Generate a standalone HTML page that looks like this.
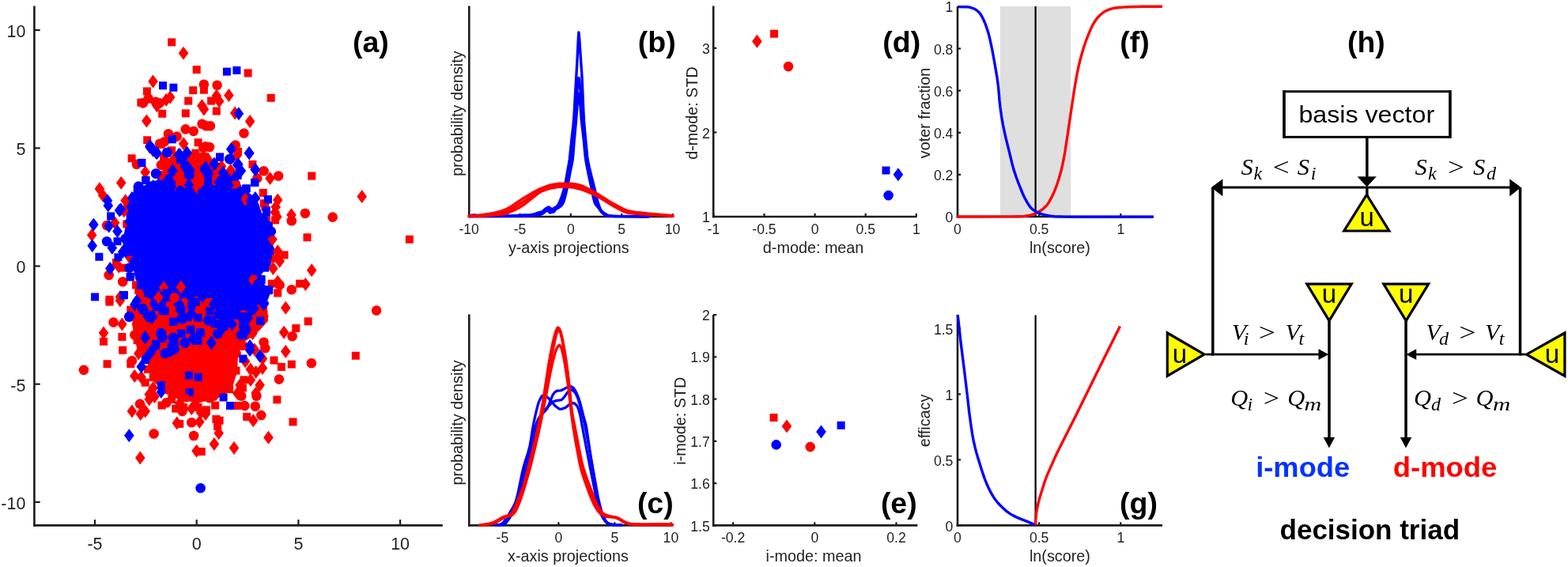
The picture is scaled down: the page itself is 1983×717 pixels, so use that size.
<!DOCTYPE html>
<html lang="en"><head><meta charset="utf-8"><title>decision triad figure</title>
<style>
html,body{margin:0;padding:0;background:#fff;}
body{width:1983px;height:717px;overflow:hidden;}
svg{display:block;font-family:"Liberation Sans","DejaVu Sans",sans-serif;}
</style></head><body>
<svg width="1983" height="717" viewBox="0 0 1983 717">
<rect width="1983" height="717" fill="#fff"/>
<g id="pa">
<path d="M218 200L240 196L262 196L272 212L284 230L280 245L245 250L218 240L212 218Z" fill="#ff0000" stroke="#ff0000" stroke-width="6" stroke-linejoin="round"/>
<path d="M176 370L334 370L336 405L322 420L304 432L298 450L297 470L290 492L270 503L250 506L228 503L210 495L198 478L190 460L176 440L170 410Z" fill="#ff0000" stroke="#ff0000" stroke-width="6" stroke-linejoin="round"/>
<path d="M162 262L163 280L159 300L158 320L172 340L174 352L181 362L188 372L196 380L215 378L240 372L262 372L280 378L300 380L322 384L336 378L339 370L325 352L328 343L339 335L344 325L344 315L339 302L346 293L336 281L328 270L324 258L318 250L304 240L296 222L284 220L276 236L256 242L248 252L236 252L222 248L213 230L192 232L180 240L171 248Z" fill="#0000ff" stroke="#0000ff" stroke-width="6" stroke-linejoin="round"/>
<rect x="212.2" y="48.4" width="10.0" height="10.0" fill="#ff0000"/>
<rect x="243.7" y="83.1" width="10.0" height="10.0" fill="#ff0000"/>
<rect x="308.6" y="87.4" width="10.0" height="10.0" fill="#ff0000"/>
<rect x="239.2" y="109.2" width="10.0" height="10.0" fill="#ff0000"/>
<rect x="252.9" y="108.7" width="10.0" height="10.0" fill="#ff0000"/>
<rect x="233.2" y="122.6" width="10.0" height="10.0" fill="#ff0000"/>
<rect x="229.8" y="138.3" width="10.0" height="10.0" fill="#ff0000"/>
<rect x="268.8" y="135.5" width="10.0" height="10.0" fill="#ff0000"/>
<rect x="180.9" y="110.4" width="10.0" height="10.0" fill="#ff0000"/>
<rect x="262.1" y="122.6" width="10.0" height="10.0" fill="#ff0000"/>
<rect x="200.2" y="138.8" width="10.0" height="10.0" fill="#ff0000"/>
<rect x="173.4" y="124.6" width="10.0" height="10.0" fill="#ff0000"/>
<path d="M232.0 58.7L238.3 67.2L232.0 75.7L225.7 67.2Z" fill="#ff0000"/>
<path d="M193.5 94.6L199.8 103.1L193.5 111.6L187.2 103.1Z" fill="#ff0000"/>
<path d="M289.4 111.9L295.7 120.4L289.4 128.9L283.1 120.4Z" fill="#ff0000"/>
<path d="M255.4 125.3L261.7 133.8L255.4 142.3L249.1 133.8Z" fill="#ff0000"/>
<path d="M257.9 129.4L264.2 137.9L257.9 146.4L251.6 137.9Z" fill="#ff0000"/>
<path d="M273.8 112.7L280.1 121.2L273.8 129.7L267.5 121.2Z" fill="#ff0000"/>
<path d="M277.2 119.4L283.5 127.9L277.2 136.4L270.9 127.9Z" fill="#ff0000"/>
<path d="M215.2 114.4L221.5 122.9L215.2 131.4L208.9 122.9Z" fill="#ff0000"/>
<path d="M210.2 117.7L216.5 126.2L210.2 134.7L203.9 126.2Z" fill="#ff0000"/>
<path d="M198.5 125.3L204.8 133.8L198.5 142.3L192.2 133.8Z" fill="#ff0000"/>
<path d="M297.2 134.5L303.5 143.0L297.2 151.5L290.9 143.0Z" fill="#ff0000"/>
<circle cx="257.9" cy="106.7" r="6.3" fill="#ff0000"/>
<circle cx="274.6" cy="107.8" r="6.3" fill="#ff0000"/>
<circle cx="180.9" cy="130.4" r="6.3" fill="#ff0000"/>
<circle cx="196.8" cy="128.7" r="6.3" fill="#ff0000"/>
<circle cx="187.6" cy="124.6" r="6.3" fill="#ff0000"/>
<circle cx="201.8" cy="130.4" r="6.3" fill="#ff0000"/>
<rect x="201.0" y="103.2" width="10.0" height="10.0" fill="#0000ff"/>
<rect x="214.4" y="105.7" width="10.0" height="10.0" fill="#0000ff"/>
<rect x="281.9" y="85.6" width="10.0" height="10.0" fill="#0000ff"/>
<rect x="294.4" y="83.9" width="10.0" height="10.0" fill="#0000ff"/>
<path d="M301.9 135.3L308.2 143.8L301.9 152.3L295.6 143.8Z" fill="#0000ff"/>
<path d="M185.4 144.6L191.7 153.1L185.4 161.6L179.1 153.1Z" fill="#ff0000"/>
<circle cx="213.0" cy="169.3" r="6.3" fill="#ff0000"/>
<circle cx="223.8" cy="172.6" r="6.3" fill="#ff0000"/>
<circle cx="234.7" cy="163.4" r="6.3" fill="#ff0000"/>
<circle cx="244.8" cy="165.9" r="6.3" fill="#ff0000"/>
<circle cx="255.6" cy="156.7" r="6.3" fill="#ff0000"/>
<rect x="181.2" y="172.2" width="10.0" height="10.0" fill="#ff0000"/>
<rect x="161.6" y="195.3" width="10.0" height="10.0" fill="#ff0000"/>
<circle cx="172.8" cy="207.8" r="6.3" fill="#ff0000"/>
<path d="M183.7 209.3L190.0 217.8L183.7 226.3L177.4 217.8Z" fill="#ff0000"/>
<path d="M153.2 222.7L159.5 231.2L153.2 239.7L146.9 231.2Z" fill="#ff0000"/>
<path d="M125.9 230.2L132.2 238.7L125.9 247.2L119.6 238.7Z" fill="#ff0000"/>
<path d="M130.1 238.6L136.4 247.1L130.1 255.6L123.8 247.1Z" fill="#ff0000"/>
<path d="M158.6 245.3L164.9 253.8L158.6 262.3L152.3 253.8Z" fill="#ff0000"/>
<circle cx="202.1" cy="181.8" r="6.3" fill="#ff0000"/>
<circle cx="207.9" cy="179.3" r="6.3" fill="#ff0000"/>
<rect x="198.8" y="177.7" width="10.0" height="10.0" fill="#ff0000"/>
<circle cx="203.8" cy="208.6" r="6.3" fill="#ff0000"/>
<circle cx="210.5" cy="205.3" r="6.3" fill="#ff0000"/>
<path d="M220.5 191.8L226.8 200.3L220.5 208.8L214.2 200.3Z" fill="#ff0000"/>
<rect x="245.6" y="175.2" width="10.0" height="10.0" fill="#ff0000"/>
<rect x="242.3" y="188.6" width="10.0" height="10.0" fill="#ff0000"/>
<circle cx="257.3" cy="186.9" r="6.3" fill="#ff0000"/>
<path d="M232.2 173.3L238.5 181.8L232.2 190.3L225.9 181.8Z" fill="#ff0000"/>
<rect x="245.6" y="205.3" width="10.0" height="10.0" fill="#ff0000"/>
<path d="M247.3 218.5L253.6 227.0L247.3 235.5L241.0 227.0Z" fill="#ff0000"/>
<circle cx="254.0" cy="240.4" r="6.3" fill="#ff0000"/>
<rect x="240.6" y="232.1" width="10.0" height="10.0" fill="#ff0000"/>
<circle cx="227.2" cy="238.7" r="6.3" fill="#ff0000"/>
<path d="M223.8 221.9L230.1 230.4L223.8 238.9L217.5 230.4Z" fill="#ff0000"/>
<circle cx="203.8" cy="222.0" r="6.3" fill="#ff0000"/>
<rect x="212.2" y="185.2" width="10.0" height="10.0" fill="#ff0000"/>
<path d="M210.5 205.1L216.8 213.6L210.5 222.1L204.2 213.6Z" fill="#ff0000"/>
<circle cx="215.5" cy="206.9" r="6.3" fill="#ff0000"/>
<rect x="202.1" y="193.6" width="10.0" height="10.0" fill="#ff0000"/>
<rect x="213.0" y="171.0" width="10.0" height="10.0" fill="#0000ff"/>
<path d="M189.5 177.5L195.8 186.0L189.5 194.5L183.2 186.0Z" fill="#0000ff"/>
<path d="M193.7 181.7L200.0 190.2L193.7 198.7L187.4 190.2Z" fill="#0000ff"/>
<path d="M198.7 185.1L205.0 193.6L198.7 202.1L192.4 193.6Z" fill="#0000ff"/>
<circle cx="211.3" cy="192.7" r="6.3" fill="#0000ff"/>
<path d="M227.2 186.7L233.5 195.2L227.2 203.7L220.9 195.2Z" fill="#0000ff"/>
<path d="M236.4 185.1L242.7 193.6L236.4 202.1L230.1 193.6Z" fill="#0000ff"/>
<rect x="225.5" y="196.9" width="10.0" height="10.0" fill="#0000ff"/>
<rect x="174.2" y="200.8" width="10.0" height="10.0" fill="#0000ff"/>
<circle cx="197.1" cy="219.5" r="6.3" fill="#0000ff"/>
<path d="M218.5 207.7L224.8 216.2L218.5 224.7L212.2 216.2Z" fill="#0000ff"/>
<rect x="179.5" y="222.9" width="10.0" height="10.0" fill="#0000ff"/>
<path d="M238.9 206.8L245.2 215.3L238.9 223.8L232.6 215.3Z" fill="#0000ff"/>
<rect x="228.9" y="203.6" width="10.0" height="10.0" fill="#0000ff"/>
<circle cx="238.9" cy="220.3" r="6.3" fill="#0000ff"/>
<rect x="170.3" y="232.9" width="10.0" height="10.0" fill="#0000ff"/>
<circle cx="180.3" cy="240.4" r="6.3" fill="#0000ff"/>
<rect x="182.0" y="235.4" width="10.0" height="10.0" fill="#0000ff"/>
<path d="M193.7 226.9L200.0 235.4L193.7 243.9L187.4 235.4Z" fill="#0000ff"/>
<path d="M200.4 225.2L206.7 233.7L200.4 242.2L194.1 233.7Z" fill="#0000ff"/>
<rect x="202.1" y="228.7" width="10.0" height="10.0" fill="#0000ff"/>
<path d="M213.8 218.5L220.1 227.0L213.8 235.5L207.5 227.0Z" fill="#0000ff"/>
<rect x="212.2" y="228.7" width="10.0" height="10.0" fill="#0000ff"/>
<path d="M166.9 242.0L173.2 250.5L166.9 259.0L160.6 250.5Z" fill="#0000ff"/>
<path d="M136.0 245.3L142.3 253.8L136.0 262.3L129.7 253.8Z" fill="#0000ff"/>
<rect x="170.3" y="250.5" width="10.0" height="10.0" fill="#0000ff"/>
<circle cx="193.7" cy="248.8" r="6.3" fill="#0000ff"/>
<rect x="195.4" y="242.1" width="10.0" height="10.0" fill="#0000ff"/>
<rect x="208.8" y="238.8" width="10.0" height="10.0" fill="#0000ff"/>
<path d="M217.2 242.0L223.5 250.5L217.2 259.0L210.9 250.5Z" fill="#0000ff"/>
<rect x="218.8" y="248.8" width="10.0" height="10.0" fill="#0000ff"/>
<path d="M238.9 225.2L245.2 233.7L238.9 242.2L232.6 233.7Z" fill="#0000ff"/>
<circle cx="233.9" cy="247.1" r="6.3" fill="#0000ff"/>
<rect x="245.6" y="248.8" width="10.0" height="10.0" fill="#0000ff"/>
<circle cx="259.0" cy="213.6" r="6.3" fill="#0000ff"/>
<rect x="252.3" y="250.5" width="10.0" height="10.0" fill="#0000ff"/>
<path d="M243.9 238.6L250.2 247.1L243.9 255.6L237.6 247.1Z" fill="#0000ff"/>
<path d="M316.1 144.9L322.4 153.4L316.1 161.9L309.8 153.4Z" fill="#ff0000"/>
<circle cx="265.9" cy="159.2" r="6.3" fill="#ff0000"/>
<circle cx="260.8" cy="159.2" r="6.3" fill="#ff0000"/>
<circle cx="308.5" cy="168.5" r="6.3" fill="#ff0000"/>
<circle cx="265.0" cy="186.0" r="6.3" fill="#ff0000"/>
<circle cx="260.0" cy="185.2" r="6.3" fill="#ff0000"/>
<circle cx="297.7" cy="183.5" r="6.3" fill="#ff0000"/>
<rect x="296.0" y="186.9" width="10.0" height="10.0" fill="#ff0000"/>
<path d="M299.3 188.4L305.6 196.9L299.3 205.4L293.0 196.9Z" fill="#ff0000"/>
<rect x="314.4" y="202.8" width="10.0" height="10.0" fill="#ff0000"/>
<circle cx="333.6" cy="216.2" r="6.3" fill="#ff0000"/>
<circle cx="325.3" cy="225.4" r="6.3" fill="#ff0000"/>
<path d="M341.5 216.9L347.8 225.4L341.5 233.9L335.2 225.4Z" fill="#ff0000"/>
<circle cx="352.1" cy="222.5" r="6.3" fill="#ff0000"/>
<rect x="389.2" y="217.5" width="10.0" height="10.0" fill="#ff0000"/>
<rect x="327.8" y="238.8" width="10.0" height="10.0" fill="#ff0000"/>
<path d="M351.2 244.5L357.5 253.0L351.2 261.5L344.9 253.0Z" fill="#ff0000"/>
<rect x="328.6" y="252.2" width="10.0" height="10.0" fill="#ff0000"/>
<path d="M261.7 193.4L268.0 201.9L261.7 210.4L255.4 201.9Z" fill="#ff0000"/>
<path d="M280.1 201.8L286.4 210.3L280.1 218.8L273.8 210.3Z" fill="#ff0000"/>
<path d="M291.8 206.8L298.1 215.3L291.8 223.8L285.5 215.3Z" fill="#ff0000"/>
<rect x="265.0" y="215.3" width="10.0" height="10.0" fill="#ff0000"/>
<path d="M266.7 225.2L273.0 233.7L266.7 242.2L260.4 233.7Z" fill="#ff0000"/>
<circle cx="276.7" cy="223.7" r="6.3" fill="#ff0000"/>
<rect x="293.5" y="228.7" width="10.0" height="10.0" fill="#ff0000"/>
<path d="M310.2 243.6L316.5 252.1L310.2 260.6L303.9 252.1Z" fill="#ff0000"/>
<path d="M292.6 180.0L298.9 188.5L292.6 197.0L286.3 188.5Z" fill="#0000ff"/>
<path d="M314.9 185.1L321.2 193.6L314.9 202.1L308.6 193.6Z" fill="#0000ff"/>
<rect x="273.1" y="193.6" width="10.0" height="10.0" fill="#0000ff"/>
<circle cx="290.1" cy="201.1" r="6.3" fill="#0000ff"/>
<path d="M270.9 198.4L277.2 206.9L270.9 215.4L264.6 206.9Z" fill="#0000ff"/>
<path d="M300.2 200.1L306.5 208.6L300.2 217.1L293.9 208.6Z" fill="#0000ff"/>
<path d="M303.5 206.8L309.8 215.3L303.5 223.8L297.2 215.3Z" fill="#0000ff"/>
<rect x="295.2" y="217.0" width="10.0" height="10.0" fill="#0000ff"/>
<path d="M322.8 206.0L329.1 214.5L322.8 223.0L316.5 214.5Z" fill="#0000ff"/>
<rect x="317.3" y="225.9" width="10.0" height="10.0" fill="#0000ff"/>
<rect x="306.0" y="233.7" width="10.0" height="10.0" fill="#0000ff"/>
<rect x="333.7" y="247.1" width="10.0" height="10.0" fill="#0000ff"/>
<path d="M322.8 242.0L329.1 250.5L322.8 259.0L316.5 250.5Z" fill="#0000ff"/>
<path d="M316.9 245.3L323.2 253.8L316.9 262.3L310.6 253.8Z" fill="#0000ff"/>
<circle cx="263.3" cy="218.7" r="6.3" fill="#0000ff"/>
<path d="M281.8 210.2L288.1 218.7L281.8 227.2L275.5 218.7Z" fill="#0000ff"/>
<rect x="280.1" y="222.0" width="10.0" height="10.0" fill="#0000ff"/>
<path d="M276.7 221.9L283.0 230.4L276.7 238.9L270.4 230.4Z" fill="#0000ff"/>
<circle cx="270.0" cy="240.4" r="6.3" fill="#0000ff"/>
<rect x="260.0" y="243.8" width="10.0" height="10.0" fill="#0000ff"/>
<path d="M286.8 228.6L293.1 237.1L286.8 245.6L280.5 237.1Z" fill="#0000ff"/>
<rect x="288.5" y="238.8" width="10.0" height="10.0" fill="#0000ff"/>
<circle cx="281.8" cy="247.1" r="6.3" fill="#0000ff"/>
<path d="M301.8 235.3L308.1 243.8L301.8 252.3L295.5 243.8Z" fill="#0000ff"/>
<rect x="271.7" y="250.5" width="10.0" height="10.0" fill="#0000ff"/>
<path d="M290.1 245.3L296.4 253.8L290.1 262.3L283.8 253.8Z" fill="#0000ff"/>
<circle cx="300.2" cy="255.5" r="6.3" fill="#0000ff"/>
<rect x="258.3" y="225.4" width="10.0" height="10.0" fill="#0000ff"/>
<path d="M260.0 248.7L266.3 257.2L260.0 265.7L253.7 257.2Z" fill="#0000ff"/>
<path d="M116.2 288.7L122.5 297.2L116.2 305.7L109.9 297.2Z" fill="#ff0000"/>
<circle cx="135.1" cy="285.1" r="6.3" fill="#ff0000"/>
<path d="M145.2 273.3L151.5 281.8L145.2 290.3L138.9 281.8Z" fill="#ff0000"/>
<rect x="155.3" y="278.4" width="10.0" height="10.0" fill="#ff0000"/>
<path d="M156.9 258.2L163.2 266.7L156.9 275.2L150.6 266.7Z" fill="#ff0000"/>
<rect x="141.9" y="327.0" width="10.0" height="10.0" fill="#ff0000"/>
<path d="M150.2 328.5L156.5 337.0L150.2 345.5L143.9 337.0Z" fill="#ff0000"/>
<rect x="150.2" y="333.7" width="10.0" height="10.0" fill="#ff0000"/>
<circle cx="137.7" cy="347.9" r="6.3" fill="#ff0000"/>
<circle cx="155.2" cy="356.2" r="6.3" fill="#ff0000"/>
<rect x="170.3" y="362.1" width="10.0" height="10.0" fill="#ff0000"/>
<rect x="167.0" y="355.4" width="10.0" height="10.0" fill="#ff0000"/>
<circle cx="178.7" cy="368.8" r="6.3" fill="#ff0000"/>
<path d="M151.9 367.0L158.2 375.5L151.9 384.0L145.6 375.5Z" fill="#ff0000"/>
<rect x="133.5" y="373.8" width="10.0" height="10.0" fill="#ff0000"/>
<path d="M165.3 318.4L171.6 326.9L165.3 335.4L159.0 326.9Z" fill="#ff0000"/>
<path d="M118.4 275.4L124.7 283.9L118.4 292.4L112.1 283.9Z" fill="#0000ff"/>
<path d="M116.7 302.2L123.0 310.7L116.7 319.2L110.4 310.7Z" fill="#0000ff"/>
<path d="M137.7 277.4L144.0 285.9L137.7 294.4L131.4 285.9Z" fill="#0000ff"/>
<rect x="135.2" y="268.4" width="10.0" height="10.0" fill="#0000ff"/>
<path d="M151.0 257.4L157.3 265.9L151.0 274.4L144.7 265.9Z" fill="#0000ff"/>
<path d="M136.8 251.5L143.1 260.0L136.8 268.5L130.5 260.0Z" fill="#0000ff"/>
<path d="M148.5 284.1L154.8 292.6L148.5 301.1L142.2 292.6Z" fill="#0000ff"/>
<circle cx="135.1" cy="305.2" r="6.3" fill="#0000ff"/>
<path d="M141.8 305.1L148.1 313.6L141.8 322.1L135.5 313.6Z" fill="#0000ff"/>
<rect x="143.5" y="300.2" width="10.0" height="10.0" fill="#0000ff"/>
<rect x="120.4" y="319.8" width="10.0" height="10.0" fill="#0000ff"/>
<rect x="144.4" y="320.3" width="10.0" height="10.0" fill="#0000ff"/>
<path d="M139.3 331.0L145.6 339.5L139.3 348.0L133.0 339.5Z" fill="#0000ff"/>
<rect x="115.1" y="370.5" width="10.0" height="10.0" fill="#0000ff"/>
<rect x="151.9" y="368.0" width="10.0" height="10.0" fill="#0000ff"/>
<rect x="159.9" y="345.4" width="10.0" height="10.0" fill="#0000ff"/>
<circle cx="163.6" cy="338.7" r="6.3" fill="#0000ff"/>
<rect x="161.9" y="265.0" width="10.0" height="10.0" fill="#0000ff"/>
<path d="M163.6 271.6L169.9 280.1L163.6 288.6L157.3 280.1Z" fill="#0000ff"/>
<circle cx="165.3" cy="290.1" r="6.3" fill="#0000ff"/>
<rect x="158.6" y="295.2" width="10.0" height="10.0" fill="#0000ff"/>
<path d="M161.9 301.7L168.2 310.2L161.9 318.7L155.6 310.2Z" fill="#0000ff"/>
<rect x="161.9" y="313.6" width="10.0" height="10.0" fill="#0000ff"/>
<circle cx="170.3" cy="330.3" r="6.3" fill="#0000ff"/>
<path d="M173.6 331.8L179.9 340.3L173.6 348.8L167.3 340.3Z" fill="#0000ff"/>
<rect x="173.7" y="345.4" width="10.0" height="10.0" fill="#0000ff"/>
<path d="M183.7 351.9L190.0 360.4L183.7 368.9L177.4 360.4Z" fill="#0000ff"/>
<rect x="182.0" y="365.5" width="10.0" height="10.0" fill="#0000ff"/>
<path d="M155.2 310.1L161.5 318.6L155.2 327.1L148.9 318.6Z" fill="#0000ff"/>
<circle cx="158.6" cy="301.8" r="6.3" fill="#0000ff"/>
<rect x="330.3" y="256.7" width="10.0" height="10.0" fill="#ff0000"/>
<path d="M348.7 253.2L355.0 261.7L348.7 270.2L342.4 261.7Z" fill="#ff0000"/>
<path d="M347.9 259.9L354.2 268.4L347.9 276.9L341.6 268.4Z" fill="#ff0000"/>
<rect x="342.9" y="273.4" width="10.0" height="10.0" fill="#ff0000"/>
<path d="M350.4 265.7L356.7 274.2L350.4 282.7L344.1 274.2Z" fill="#ff0000"/>
<path d="M368.5 263.2L374.8 271.7L368.5 280.2L362.2 271.7Z" fill="#ff0000"/>
<circle cx="368.8" cy="279.2" r="6.3" fill="#ff0000"/>
<circle cx="385.9" cy="269.7" r="6.3" fill="#ff0000"/>
<circle cx="420.7" cy="274.6" r="6.3" fill="#ff0000"/>
<rect x="383.5" y="295.2" width="10.0" height="10.0" fill="#ff0000"/>
<path d="M344.5 294.2L350.8 302.7L344.5 311.2L338.2 302.7Z" fill="#ff0000"/>
<path d="M351.2 309.2L357.5 317.7L351.2 326.2L344.9 317.7Z" fill="#ff0000"/>
<rect x="354.6" y="317.4" width="10.0" height="10.0" fill="#ff0000"/>
<path d="M353.7 321.8L360.0 330.3L353.7 338.8L347.4 330.3Z" fill="#ff0000"/>
<rect x="342.0" y="321.9" width="10.0" height="10.0" fill="#ff0000"/>
<path d="M345.4 331.0L351.7 339.5L345.4 348.0L339.1 339.5Z" fill="#ff0000"/>
<path d="M394.2 333.2L400.5 341.7L394.2 350.2L387.9 341.7Z" fill="#ff0000"/>
<path d="M351.2 347.7L357.5 356.2L351.2 364.7L344.9 356.2Z" fill="#ff0000"/>
<circle cx="353.7" cy="360.4" r="6.3" fill="#ff0000"/>
<rect x="338.7" y="353.7" width="10.0" height="10.0" fill="#ff0000"/>
<rect x="374.2" y="353.7" width="10.0" height="10.0" fill="#ff0000"/>
<path d="M386.4 351.1L392.7 359.6L386.4 368.1L380.1 359.6Z" fill="#ff0000"/>
<circle cx="368.8" cy="366.3" r="6.3" fill="#ff0000"/>
<rect x="346.2" y="365.5" width="10.0" height="10.0" fill="#ff0000"/>
<circle cx="321.1" cy="353.7" r="6.3" fill="#ff0000"/>
<rect x="332.0" y="273.4" width="10.0" height="10.0" fill="#ff0000"/>
<rect x="332.0" y="263.7" width="10.0" height="10.0" fill="#0000ff"/>
<circle cx="342.8" cy="292.6" r="6.3" fill="#0000ff"/>
<circle cx="338.7" cy="285.1" r="6.3" fill="#0000ff"/>
<circle cx="339.5" cy="314.4" r="6.3" fill="#0000ff"/>
<rect x="333.7" y="318.6" width="10.0" height="10.0" fill="#0000ff"/>
<rect x="330.3" y="333.7" width="10.0" height="10.0" fill="#0000ff"/>
<rect x="325.3" y="347.9" width="10.0" height="10.0" fill="#0000ff"/>
<circle cx="326.9" cy="358.7" r="6.3" fill="#0000ff"/>
<rect x="335.3" y="361.3" width="10.0" height="10.0" fill="#0000ff"/>
<path d="M333.6 268.2L339.9 276.7L333.6 285.2L327.3 276.7Z" fill="#0000ff"/>
<rect x="325.3" y="293.5" width="10.0" height="10.0" fill="#0000ff"/>
<path d="M335.3 298.4L341.6 306.9L335.3 315.4L329.0 306.9Z" fill="#0000ff"/>
<path d="M332.0 321.8L338.3 330.3L332.0 338.8L325.7 330.3Z" fill="#0000ff"/>
<rect x="328.6" y="368.8" width="10.0" height="10.0" fill="#0000ff"/>
<path d="M326.9 335.2L333.2 343.7L326.9 352.2L320.6 343.7Z" fill="#0000ff"/>
<path d="M457.7 240.0L464.0 248.5L457.7 257.0L451.4 248.5Z" fill="#ff0000"/>
<rect x="512.9" y="297.7" width="10.0" height="10.0" fill="#ff0000"/>
<rect x="337.7" y="118.8" width="10.0" height="10.0" fill="#ff0000"/>
<circle cx="105.9" cy="467.9" r="6.3" fill="#ff0000"/>
<rect x="130.6" y="455.3" width="10.0" height="10.0" fill="#ff0000"/>
<rect x="150.2" y="437.8" width="10.0" height="10.0" fill="#ff0000"/>
<rect x="149.4" y="421.0" width="10.0" height="10.0" fill="#ff0000"/>
<path d="M131.0 412.5L137.3 421.0L131.0 429.5L124.7 421.0Z" fill="#ff0000"/>
<rect x="126.0" y="426.9" width="10.0" height="10.0" fill="#ff0000"/>
<circle cx="143.5" cy="407.6" r="6.3" fill="#ff0000"/>
<path d="M154.4 401.6L160.7 410.1L154.4 418.6L148.1 410.1Z" fill="#ff0000"/>
<rect x="133.5" y="376.7" width="10.0" height="10.0" fill="#ff0000"/>
<path d="M151.9 371.5L158.2 380.0L151.9 388.5L145.6 380.0Z" fill="#ff0000"/>
<circle cx="170.3" cy="423.5" r="6.3" fill="#ff0000"/>
<rect x="168.6" y="425.2" width="10.0" height="10.0" fill="#ff0000"/>
<circle cx="185.4" cy="440.3" r="6.3" fill="#ff0000"/>
<circle cx="166.9" cy="456.2" r="6.3" fill="#ff0000"/>
<rect x="160.3" y="455.3" width="10.0" height="10.0" fill="#ff0000"/>
<path d="M170.3 466.9L176.6 475.4L170.3 483.9L164.0 475.4Z" fill="#ff0000"/>
<path d="M178.7 468.6L185.0 477.1L178.7 485.6L172.4 477.1Z" fill="#ff0000"/>
<rect x="178.7" y="478.8" width="10.0" height="10.0" fill="#ff0000"/>
<path d="M188.7 490.3L195.0 498.8L188.7 507.3L182.4 498.8Z" fill="#ff0000"/>
<rect x="160.3" y="386.7" width="10.0" height="10.0" fill="#ff0000"/>
<rect x="170.3" y="400.1" width="10.0" height="10.0" fill="#ff0000"/>
<rect x="173.7" y="411.8" width="10.0" height="10.0" fill="#ff0000"/>
<path d="M175.3 438.4L181.6 446.9L175.3 455.4L169.0 446.9Z" fill="#ff0000"/>
<rect x="182.0" y="462.0" width="10.0" height="10.0" fill="#ff0000"/>
<rect x="188.7" y="472.1" width="10.0" height="10.0" fill="#ff0000"/>
<circle cx="200.4" cy="480.4" r="6.3" fill="#ff0000"/>
<rect x="212.2" y="478.8" width="10.0" height="10.0" fill="#ff0000"/>
<path d="M193.7 482.0L200.0 490.5L193.7 499.0L187.4 490.5Z" fill="#ff0000"/>
<circle cx="163.6" cy="400.1" r="6.3" fill="#0000ff"/>
<path d="M170.3 376.5L176.6 385.0L170.3 393.5L164.0 385.0Z" fill="#0000ff"/>
<circle cx="180.3" cy="390.0" r="6.3" fill="#0000ff"/>
<circle cx="187.0" cy="398.4" r="6.3" fill="#0000ff"/>
<path d="M192.1 393.3L198.4 401.8L192.1 410.3L185.8 401.8Z" fill="#0000ff"/>
<rect x="193.7" y="383.4" width="10.0" height="10.0" fill="#0000ff"/>
<circle cx="203.8" cy="385.0" r="6.3" fill="#0000ff"/>
<rect x="203.8" y="388.4" width="10.0" height="10.0" fill="#0000ff"/>
<rect x="213.8" y="401.8" width="10.0" height="10.0" fill="#0000ff"/>
<circle cx="230.5" cy="403.4" r="6.3" fill="#0000ff"/>
<rect x="222.2" y="385.0" width="10.0" height="10.0" fill="#0000ff"/>
<path d="M225.5 376.5L231.8 385.0L225.5 393.5L219.2 385.0Z" fill="#0000ff"/>
<rect x="237.3" y="381.7" width="10.0" height="10.0" fill="#0000ff"/>
<path d="M242.3 388.2L248.6 396.7L242.3 405.2L236.0 396.7Z" fill="#0000ff"/>
<rect x="245.6" y="396.8" width="10.0" height="10.0" fill="#0000ff"/>
<path d="M183.7 418.4L190.0 426.9L183.7 435.4L177.4 426.9Z" fill="#0000ff"/>
<circle cx="203.8" cy="421.0" r="6.3" fill="#0000ff"/>
<circle cx="205.4" cy="426.9" r="6.3" fill="#0000ff"/>
<rect x="235.6" y="411.8" width="10.0" height="10.0" fill="#0000ff"/>
<rect x="248.1" y="415.2" width="10.0" height="10.0" fill="#0000ff"/>
<rect x="223.9" y="416.8" width="10.0" height="10.0" fill="#0000ff"/>
<circle cx="218.8" cy="426.9" r="6.3" fill="#0000ff"/>
<path d="M220.5 426.7L226.8 435.2L220.5 443.7L214.2 435.2Z" fill="#0000ff"/>
<circle cx="213.8" cy="445.3" r="6.3" fill="#0000ff"/>
<circle cx="220.5" cy="441.9" r="6.3" fill="#0000ff"/>
<circle cx="208.8" cy="446.9" r="6.3" fill="#0000ff"/>
<circle cx="233.9" cy="433.6" r="6.3" fill="#0000ff"/>
<path d="M243.9 420.0L250.2 428.5L243.9 437.0L237.6 428.5Z" fill="#0000ff"/>
<rect x="245.6" y="426.0" width="10.0" height="10.0" fill="#0000ff"/>
<rect x="192.1" y="431.9" width="10.0" height="10.0" fill="#0000ff"/>
<path d="M192.1 435.1L198.4 443.6L192.1 452.1L185.8 443.6Z" fill="#0000ff"/>
<path d="M187.0 441.8L193.3 450.3L187.0 458.8L180.7 450.3Z" fill="#0000ff"/>
<rect x="178.7" y="450.3" width="10.0" height="10.0" fill="#0000ff"/>
<path d="M178.7 455.2L185.0 463.7L178.7 472.2L172.4 463.7Z" fill="#0000ff"/>
<rect x="233.9" y="469.6" width="10.0" height="10.0" fill="#0000ff"/>
<rect x="245.6" y="472.1" width="10.0" height="10.0" fill="#0000ff"/>
<rect x="198.8" y="482.1" width="10.0" height="10.0" fill="#0000ff"/>
<path d="M203.8 487.0L210.1 495.5L203.8 504.0L197.5 495.5Z" fill="#0000ff"/>
<rect x="234.7" y="491.3" width="10.0" height="10.0" fill="#0000ff"/>
<path d="M361.3 380.7L367.6 389.2L361.3 397.7L355.0 389.2Z" fill="#ff0000"/>
<rect x="384.7" y="401.4" width="10.0" height="10.0" fill="#ff0000"/>
<rect x="369.3" y="410.1" width="10.0" height="10.0" fill="#ff0000"/>
<path d="M359.1 411.7L365.4 420.2L359.1 428.7L352.8 420.2Z" fill="#ff0000"/>
<circle cx="369.6" cy="425.2" r="6.3" fill="#ff0000"/>
<path d="M361.3 435.9L367.6 444.4L361.3 452.9L355.0 444.4Z" fill="#ff0000"/>
<circle cx="393.9" cy="459.2" r="6.3" fill="#ff0000"/>
<rect x="341.5" y="450.6" width="10.0" height="10.0" fill="#ff0000"/>
<rect x="350.9" y="459.0" width="10.0" height="10.0" fill="#ff0000"/>
<rect x="363.8" y="455.7" width="10.0" height="10.0" fill="#ff0000"/>
<circle cx="352.9" cy="479.6" r="6.3" fill="#ff0000"/>
<circle cx="333.6" cy="432.7" r="6.3" fill="#ff0000"/>
<circle cx="335.3" cy="440.3" r="6.3" fill="#ff0000"/>
<path d="M333.6 391.6L339.9 400.1L333.6 408.6L327.3 400.1Z" fill="#ff0000"/>
<circle cx="332.0" cy="395.1" r="6.3" fill="#ff0000"/>
<path d="M319.4 413.3L325.7 421.8L319.4 430.3L313.1 421.8Z" fill="#ff0000"/>
<path d="M321.9 433.4L328.2 441.9L321.9 450.4L315.6 441.9Z" fill="#ff0000"/>
<path d="M332.0 445.1L338.3 453.6L332.0 462.1L325.7 453.6Z" fill="#ff0000"/>
<path d="M316.9 458.5L323.2 467.0L316.9 475.5L310.6 467.0Z" fill="#ff0000"/>
<path d="M323.6 461.9L329.9 470.4L323.6 478.9L317.3 470.4Z" fill="#ff0000"/>
<path d="M332.0 456.9L338.3 465.4L332.0 473.9L325.7 465.4Z" fill="#ff0000"/>
<path d="M328.6 478.6L334.9 487.1L328.6 495.6L322.3 487.1Z" fill="#ff0000"/>
<path d="M323.6 488.7L329.9 497.2L323.6 505.7L317.3 497.2Z" fill="#ff0000"/>
<rect x="303.5" y="475.4" width="10.0" height="10.0" fill="#ff0000"/>
<path d="M316.9 471.9L323.2 480.4L316.9 488.9L310.6 480.4Z" fill="#ff0000"/>
<rect x="301.9" y="485.5" width="10.0" height="10.0" fill="#ff0000"/>
<path d="M303.5 478.6L309.8 487.1L303.5 495.6L297.2 487.1Z" fill="#ff0000"/>
<circle cx="290.1" cy="477.1" r="6.3" fill="#ff0000"/>
<rect x="285.1" y="487.1" width="10.0" height="10.0" fill="#ff0000"/>
<circle cx="285.1" cy="480.4" r="6.3" fill="#ff0000"/>
<circle cx="291.8" cy="460.3" r="6.3" fill="#ff0000"/>
<circle cx="298.5" cy="446.9" r="6.3" fill="#ff0000"/>
<circle cx="286.8" cy="455.3" r="6.3" fill="#ff0000"/>
<rect x="265.0" y="441.9" width="10.0" height="10.0" fill="#ff0000"/>
<rect x="261.7" y="458.7" width="10.0" height="10.0" fill="#ff0000"/>
<rect x="263.4" y="475.4" width="10.0" height="10.0" fill="#ff0000"/>
<rect x="265.0" y="488.8" width="10.0" height="10.0" fill="#ff0000"/>
<rect x="275.1" y="488.8" width="10.0" height="10.0" fill="#ff0000"/>
<circle cx="276.7" cy="450.3" r="6.3" fill="#ff0000"/>
<path d="M280.1 430.1L286.4 438.6L280.1 447.1L273.8 438.6Z" fill="#ff0000"/>
<rect x="258.3" y="433.6" width="10.0" height="10.0" fill="#ff0000"/>
<circle cx="306.9" cy="436.9" r="6.3" fill="#ff0000"/>
<path d="M310.2 448.5L316.5 457.0L310.2 465.5L303.9 457.0Z" fill="#ff0000"/>
<rect x="293.5" y="463.7" width="10.0" height="10.0" fill="#ff0000"/>
<path d="M300.2 488.7L306.5 497.2L300.2 505.7L293.9 497.2Z" fill="#ff0000"/>
<path d="M333.6 376.5L339.9 385.0L333.6 393.5L327.3 385.0Z" fill="#0000ff"/>
<path d="M321.1 381.5L327.4 390.0L321.1 398.5L314.8 390.0Z" fill="#0000ff"/>
<rect x="310.2" y="378.3" width="10.0" height="10.0" fill="#0000ff"/>
<rect x="324.1" y="400.9" width="10.0" height="10.0" fill="#0000ff"/>
<path d="M270.0 376.5L276.3 385.0L270.0 393.5L263.7 385.0Z" fill="#0000ff"/>
<rect x="271.7" y="391.7" width="10.0" height="10.0" fill="#0000ff"/>
<path d="M285.1 384.9L291.4 393.4L285.1 401.9L278.8 393.4Z" fill="#0000ff"/>
<rect x="288.5" y="391.7" width="10.0" height="10.0" fill="#0000ff"/>
<path d="M301.8 379.9L308.1 388.4L301.8 396.9L295.5 388.4Z" fill="#0000ff"/>
<rect x="301.9" y="395.1" width="10.0" height="10.0" fill="#0000ff"/>
<path d="M313.6 393.3L319.9 401.8L313.6 410.3L307.3 401.8Z" fill="#0000ff"/>
<circle cx="308.5" cy="413.5" r="6.3" fill="#0000ff"/>
<path d="M310.2 410.0L316.5 418.5L310.2 427.0L303.9 418.5Z" fill="#0000ff"/>
<circle cx="305.2" cy="423.5" r="6.3" fill="#0000ff"/>
<path d="M280.1 405.0L286.4 413.5L280.1 422.0L273.8 413.5Z" fill="#0000ff"/>
<rect x="270.1" y="416.8" width="10.0" height="10.0" fill="#0000ff"/>
<path d="M268.4 398.3L274.7 406.8L268.4 415.3L262.1 406.8Z" fill="#0000ff"/>
<circle cx="263.3" cy="405.1" r="6.3" fill="#0000ff"/>
<rect x="280.1" y="400.1" width="10.0" height="10.0" fill="#0000ff"/>
<rect x="260.0" y="388.4" width="10.0" height="10.0" fill="#0000ff"/>
<path d="M293.5 376.5L299.8 385.0L293.5 393.5L287.2 385.0Z" fill="#0000ff"/>
<rect x="278.4" y="378.3" width="10.0" height="10.0" fill="#0000ff"/>
<path d="M293.5 401.6L299.8 410.1L293.5 418.6L287.2 410.1Z" fill="#0000ff"/>
<path d="M267.5 425.1L273.8 433.6L267.5 442.1L261.2 433.6Z" fill="#0000ff"/>
<path d="M316.1 434.3L322.4 442.8L316.1 451.3L309.8 442.8Z" fill="#0000ff"/>
<path d="M328.6 441.8L334.9 450.3L328.6 458.8L322.3 450.3Z" fill="#0000ff"/>
<rect x="302.4" y="448.6" width="10.0" height="10.0" fill="#0000ff"/>
<circle cx="476.1" cy="392.6" r="6.3" fill="#ff0000"/>
<rect x="444.8" y="444.8" width="10.0" height="10.0" fill="#ff0000"/>
<path d="M166.9 511.6L173.2 520.1L166.9 528.6L160.6 520.1Z" fill="#ff0000"/>
<circle cx="177.0" cy="510.9" r="6.3" fill="#ff0000"/>
<path d="M188.7 496.5L195.0 505.0L188.7 513.5L182.4 505.0Z" fill="#ff0000"/>
<path d="M183.7 511.6L190.0 520.1L183.7 528.6L177.4 520.1Z" fill="#ff0000"/>
<path d="M177.8 514.9L184.1 523.4L177.8 531.9L171.5 523.4Z" fill="#ff0000"/>
<rect x="199.6" y="507.6" width="10.0" height="10.0" fill="#ff0000"/>
<circle cx="210.5" cy="509.2" r="6.3" fill="#ff0000"/>
<path d="M223.8 526.6L230.1 535.1L223.8 543.6L217.5 535.1Z" fill="#ff0000"/>
<rect x="222.2" y="531.0" width="10.0" height="10.0" fill="#ff0000"/>
<circle cx="242.3" cy="534.3" r="6.3" fill="#ff0000"/>
<path d="M252.3 525.0L258.6 533.5L252.3 542.0L246.0 533.5Z" fill="#ff0000"/>
<circle cx="194.6" cy="548.5" r="6.3" fill="#ff0000"/>
<circle cx="245.1" cy="551.0" r="6.3" fill="#ff0000"/>
<path d="M177.3 570.5L183.6 579.0L177.3 587.5L171.0 579.0Z" fill="#ff0000"/>
<path d="M248.6 561.8L254.9 570.3L248.6 578.8L242.3 570.3Z" fill="#ff0000"/>
<rect x="249.8" y="566.1" width="10.0" height="10.0" fill="#ff0000"/>
<rect x="217.2" y="511.7" width="10.0" height="10.0" fill="#ff0000"/>
<path d="M227.2 501.5L233.5 510.0L227.2 518.5L220.9 510.0Z" fill="#ff0000"/>
<rect x="227.2" y="510.1" width="10.0" height="10.0" fill="#ff0000"/>
<path d="M242.3 508.2L248.6 516.7L242.3 525.2L236.0 516.7Z" fill="#ff0000"/>
<rect x="242.3" y="505.0" width="10.0" height="10.0" fill="#ff0000"/>
<path d="M254.0 513.3L260.3 521.8L254.0 530.3L247.7 521.8Z" fill="#ff0000"/>
<circle cx="230.5" cy="520.1" r="6.3" fill="#ff0000"/>
<rect x="245.6" y="510.1" width="10.0" height="10.0" fill="#ff0000"/>
<path d="M195.4 493.2L201.7 501.7L195.4 510.2L189.1 501.7Z" fill="#ff0000"/>
<rect x="212.2" y="500.0" width="10.0" height="10.0" fill="#ff0000"/>
<rect x="228.9" y="498.3" width="10.0" height="10.0" fill="#ff0000"/>
<circle cx="250.6" cy="503.3" r="6.3" fill="#ff0000"/>
<path d="M163.3 542.2L169.6 550.7L163.3 559.2L157.0 550.7Z" fill="#0000ff"/>
<circle cx="253.6" cy="617.2" r="6.3" fill="#0000ff"/>
<rect x="345.4" y="500.4" width="10.0" height="10.0" fill="#ff0000"/>
<rect x="365.5" y="528.5" width="10.0" height="10.0" fill="#ff0000"/>
<path d="M339.5 544.7L345.8 553.2L339.5 561.7L333.2 553.2Z" fill="#ff0000"/>
<path d="M296.0 557.9L302.3 566.4L296.0 574.9L289.7 566.4Z" fill="#ff0000"/>
<path d="M270.9 552.9L277.2 561.4L270.9 569.9L264.6 561.4Z" fill="#ff0000"/>
<path d="M276.7 539.2L283.0 547.7L276.7 556.2L270.4 547.7Z" fill="#ff0000"/>
<rect x="270.1" y="534.3" width="10.0" height="10.0" fill="#ff0000"/>
<rect x="272.6" y="526.8" width="10.0" height="10.0" fill="#ff0000"/>
<rect x="268.4" y="525.1" width="10.0" height="10.0" fill="#ff0000"/>
<rect x="307.2" y="522.1" width="10.0" height="10.0" fill="#ff0000"/>
<path d="M320.3 523.3L326.6 531.8L320.3 540.3L314.0 531.8Z" fill="#ff0000"/>
<circle cx="330.3" cy="525.1" r="6.3" fill="#ff0000"/>
<circle cx="309.4" cy="513.1" r="6.3" fill="#ff0000"/>
<circle cx="322.8" cy="513.7" r="6.3" fill="#ff0000"/>
<rect x="295.2" y="508.1" width="10.0" height="10.0" fill="#ff0000"/>
<circle cx="305.2" cy="500.8" r="6.3" fill="#ff0000"/>
<circle cx="324.4" cy="500.8" r="6.3" fill="#ff0000"/>
<rect x="267.1" y="507.6" width="10.0" height="10.0" fill="#ff0000"/>
<rect x="255.8" y="513.4" width="10.0" height="10.0" fill="#ff0000"/>
<path d="M260.0 514.9L266.3 523.4L260.0 531.9L253.7 523.4Z" fill="#ff0000"/>
<circle cx="265.0" cy="503.3" r="6.3" fill="#ff0000"/>
<circle cx="270.0" cy="500.8" r="6.3" fill="#ff0000"/>
<rect x="286.0" y="508.1" width="10.0" height="10.0" fill="#0000ff"/>
<rect x="277.6" y="497.5" width="10.0" height="10.0" fill="#0000ff"/>
<rect x="212.6" y="171.3" width="10.0" height="10.0" fill="#0000ff"/>
<path d="M189.7 176.1L196.0 184.6L189.7 193.1L183.4 184.6Z" fill="#0000ff"/>
<path d="M193.2 180.3L199.5 188.8L193.2 197.3L186.9 188.8Z" fill="#0000ff"/>
<path d="M197.4 184.5L203.7 193.0L197.4 201.5L191.1 193.0Z" fill="#0000ff"/>
<circle cx="211.4" cy="193.0" r="6.3" fill="#0000ff"/>
<path d="M226.0 187.3L232.3 195.8L226.0 204.3L219.7 195.8Z" fill="#0000ff"/>
<path d="M236.5 184.5L242.8 193.0L236.5 201.5L230.2 193.0Z" fill="#0000ff"/>
<rect x="223.1" y="197.1" width="10.0" height="10.0" fill="#0000ff"/>
<rect x="174.3" y="201.0" width="10.0" height="10.0" fill="#0000ff"/>
<path d="M218.3 207.5L224.6 216.0L218.3 224.5L212.0 216.0Z" fill="#0000ff"/>
<circle cx="197.4" cy="219.5" r="6.3" fill="#0000ff"/>
<path d="M233.7 201.9L240.0 210.4L233.7 218.9L227.4 210.4Z" fill="#0000ff"/>
<path d="M240.7 207.5L247.0 216.0L240.7 224.5L234.4 216.0Z" fill="#0000ff"/>
<circle cx="239.3" cy="221.6" r="6.3" fill="#0000ff"/>
<rect x="231.5" y="206.8" width="10.0" height="10.0" fill="#0000ff"/>
<path d="M260.2 203.3L266.5 211.8L260.2 220.3L253.9 211.8Z" fill="#0000ff"/>
<circle cx="263.0" cy="220.2" r="6.3" fill="#0000ff"/>
<path d="M271.3 199.2L277.6 207.7L271.3 216.2L265.0 207.7Z" fill="#0000ff"/>
<rect x="273.0" y="193.6" width="10.0" height="10.0" fill="#0000ff"/>
<path d="M292.3 180.3L298.6 188.8L292.3 197.3L286.0 188.8Z" fill="#0000ff"/>
<circle cx="290.9" cy="201.4" r="6.3" fill="#0000ff"/>
<path d="M315.3 185.2L321.6 193.7L315.3 202.2L309.0 193.7Z" fill="#0000ff"/>
<path d="M301.3 199.2L307.6 207.7L301.3 216.2L295.0 207.7Z" fill="#0000ff"/>
<path d="M304.8 207.5L311.1 216.0L304.8 224.5L298.5 216.0Z" fill="#0000ff"/>
<rect x="295.6" y="216.6" width="10.0" height="10.0" fill="#0000ff"/>
<path d="M322.9 206.1L329.2 214.6L322.9 223.1L316.6 214.6Z" fill="#0000ff"/>
<rect x="317.2" y="225.7" width="10.0" height="10.0" fill="#0000ff"/>
<path d="M282.5 210.3L288.8 218.8L282.5 227.3L276.2 218.8Z" fill="#0000ff"/>
<path d="M281.1 220.1L287.4 228.6L281.1 237.1L274.8 228.6Z" fill="#0000ff"/>
<rect x="281.7" y="220.8" width="10.0" height="10.0" fill="#0000ff"/>
<path d="M289.5 225.7L295.8 234.2L289.5 242.7L283.2 234.2Z" fill="#0000ff"/>
<rect x="179.2" y="222.9" width="10.0" height="10.0" fill="#0000ff"/>
<path d="M211.4 220.1L217.7 228.6L211.4 237.1L205.1 228.6Z" fill="#0000ff"/>
<rect x="334.0" y="247.3" width="10.0" height="10.0" fill="#0000ff"/>
<rect x="331.9" y="261.2" width="10.0" height="10.0" fill="#0000ff"/>
<path d="M168.1 242.4L174.4 250.9L168.1 259.4L161.8 250.9Z" fill="#0000ff"/>
<path d="M152.8 256.3L159.1 264.8L152.8 273.3L146.5 264.8Z" fill="#0000ff"/>
<circle cx="175.1" cy="235.6" r="6.3" fill="#0000ff"/>
<rect x="168.7" y="234.7" width="10.0" height="10.0" fill="#0000ff"/>
<path d="M322.9 242.4L329.2 250.9L322.9 259.4L316.6 250.9Z" fill="#0000ff"/>
<rect x="306.8" y="233.3" width="10.0" height="10.0" fill="#0000ff"/>
<path d="M260.2 229.8L266.5 238.3L260.2 246.8L253.9 238.3Z" fill="#0000ff"/>
<path d="M268.5 234.0L274.8 242.5L268.5 251.0L262.2 242.5Z" fill="#0000ff"/>
<circle cx="256.0" cy="243.9" r="6.3" fill="#0000ff"/>
<path d="M239.3 231.2L245.6 239.7L239.3 248.2L233.0 239.7Z" fill="#0000ff"/>
<circle cx="228.1" cy="241.1" r="6.3" fill="#0000ff"/>
<path d="M205.8 227.1L212.1 235.6L205.8 244.1L199.5 235.6Z" fill="#0000ff"/>
<rect x="189.6" y="230.6" width="10.0" height="10.0" fill="#0000ff"/>
<rect x="159.6" y="344.8" width="10.0" height="10.0" fill="#0000ff"/>
<rect x="151.3" y="368.5" width="10.0" height="10.0" fill="#0000ff"/>
<path d="M173.0 371.9L179.3 380.4L173.0 388.9L166.7 380.4Z" fill="#0000ff"/>
<circle cx="163.2" cy="400.7" r="6.3" fill="#0000ff"/>
<path d="M183.5 418.0L189.8 426.5L183.5 435.0L177.2 426.5Z" fill="#0000ff"/>
<rect x="172.9" y="355.9" width="10.0" height="10.0" fill="#0000ff"/>
<path d="M186.3 359.4L192.6 367.9L186.3 376.4L180.0 367.9Z" fill="#0000ff"/>
<rect x="186.8" y="367.1" width="10.0" height="10.0" fill="#0000ff"/>
<path d="M198.8 370.6L205.1 379.1L198.8 387.6L192.5 379.1Z" fill="#0000ff"/>
<circle cx="180.7" cy="391.6" r="6.3" fill="#0000ff"/>
<circle cx="189.1" cy="401.4" r="6.3" fill="#0000ff"/>
<path d="M193.2 391.5L199.5 400.0L193.2 408.5L186.9 400.0Z" fill="#0000ff"/>
<rect x="200.8" y="388.0" width="10.0" height="10.0" fill="#0000ff"/>
<path d="M203.0 377.5L209.3 386.0L203.0 394.5L196.7 386.0Z" fill="#0000ff"/>
<circle cx="196.0" cy="384.6" r="6.3" fill="#0000ff"/>
<circle cx="203.7" cy="422.3" r="6.3" fill="#0000ff"/>
<rect x="192.4" y="429.8" width="10.0" height="10.0" fill="#0000ff"/>
<path d="M226.7 376.1L233.0 384.6L226.7 393.1L220.4 384.6Z" fill="#0000ff"/>
<rect x="224.5" y="386.6" width="10.0" height="10.0" fill="#0000ff"/>
<rect x="214.7" y="401.9" width="10.0" height="10.0" fill="#0000ff"/>
<circle cx="229.5" cy="402.8" r="6.3" fill="#0000ff"/>
<rect x="231.5" y="396.4" width="10.0" height="10.0" fill="#0000ff"/>
<path d="M240.7 390.1L247.0 398.6L240.7 407.1L234.4 398.6Z" fill="#0000ff"/>
<rect x="236.4" y="411.7" width="10.0" height="10.0" fill="#0000ff"/>
<rect x="224.5" y="416.6" width="10.0" height="10.0" fill="#0000ff"/>
<rect x="248.9" y="415.9" width="10.0" height="10.0" fill="#0000ff"/>
<circle cx="219.7" cy="429.3" r="6.3" fill="#0000ff"/>
<circle cx="233.7" cy="433.4" r="6.3" fill="#0000ff"/>
<rect x="242.6" y="425.7" width="10.0" height="10.0" fill="#0000ff"/>
<path d="M244.8 418.0L251.1 426.5L244.8 435.0L238.5 426.5Z" fill="#0000ff"/>
<rect x="211.9" y="432.6" width="10.0" height="10.0" fill="#0000ff"/>
<path d="M267.2 424.9L273.5 433.4L267.2 441.9L260.9 433.4Z" fill="#0000ff"/>
<path d="M272.7 373.3L279.0 381.8L272.7 390.3L266.4 381.8Z" fill="#0000ff"/>
<circle cx="278.3" cy="387.4" r="6.3" fill="#0000ff"/>
<rect x="281.7" y="388.0" width="10.0" height="10.0" fill="#0000ff"/>
<path d="M296.4 380.3L302.7 388.8L296.4 397.3L290.1 388.8Z" fill="#0000ff"/>
<circle cx="303.4" cy="381.8" r="6.3" fill="#0000ff"/>
<rect x="305.4" y="382.4" width="10.0" height="10.0" fill="#0000ff"/>
<path d="M317.4 384.5L323.7 393.0L317.4 401.5L311.1 393.0Z" fill="#0000ff"/>
<rect x="270.5" y="393.6" width="10.0" height="10.0" fill="#0000ff"/>
<circle cx="282.5" cy="404.2" r="6.3" fill="#0000ff"/>
<path d="M289.5 392.9L295.8 401.4L289.5 409.9L283.2 401.4Z" fill="#0000ff"/>
<rect x="292.8" y="393.6" width="10.0" height="10.0" fill="#0000ff"/>
<circle cx="306.2" cy="401.4" r="6.3" fill="#0000ff"/>
<path d="M313.2 394.3L319.5 402.8L313.2 411.3L306.9 402.8Z" fill="#0000ff"/>
<rect x="270.5" y="404.7" width="10.0" height="10.0" fill="#0000ff"/>
<path d="M281.1 406.8L287.4 415.3L281.1 423.8L274.8 415.3Z" fill="#0000ff"/>
<circle cx="275.5" cy="422.3" r="6.3" fill="#0000ff"/>
<rect x="278.9" y="407.5" width="10.0" height="10.0" fill="#0000ff"/>
<path d="M307.6 401.2L313.9 409.7L307.6 418.2L301.3 409.7Z" fill="#0000ff"/>
<circle cx="310.4" cy="418.1" r="6.3" fill="#0000ff"/>
<rect x="302.6" y="418.7" width="10.0" height="10.0" fill="#0000ff"/>
<path d="M311.8 406.8L318.1 415.3L311.8 423.8L305.5 415.3Z" fill="#0000ff"/>
<path d="M334.1 374.7L340.4 383.2L334.1 391.7L327.8 383.2Z" fill="#0000ff"/>
<rect x="324.2" y="400.6" width="10.0" height="10.0" fill="#0000ff"/>
<circle cx="326.4" cy="359.5" r="6.3" fill="#0000ff"/>
<rect x="325.6" y="348.9" width="10.0" height="10.0" fill="#0000ff"/>
<rect x="334.7" y="362.2" width="10.0" height="10.0" fill="#0000ff"/>
<path d="M321.5 381.7L327.8 390.2L321.5 398.7L315.2 390.2Z" fill="#0000ff"/>
<path d="M316.0 429.1L322.3 437.6L316.0 446.1L309.7 437.6Z" fill="#0000ff"/>
<path d="M240.7 366.4L247.0 374.9L240.7 383.4L234.4 374.9Z" fill="#0000ff"/>
<rect x="242.6" y="376.8" width="10.0" height="10.0" fill="#0000ff"/>
<circle cx="244.8" cy="367.9" r="6.3" fill="#0000ff"/>
<rect x="256.6" y="367.1" width="10.0" height="10.0" fill="#0000ff"/>
<path d="M256.0 366.4L262.3 374.9L256.0 383.4L249.7 374.9Z" fill="#0000ff"/>
<path d="M212.8 359.4L219.1 367.9L212.8 376.4L206.5 367.9Z" fill="#0000ff"/>
<rect x="284.5" y="369.9" width="10.0" height="10.0" fill="#0000ff"/>
<path d="M281.1 367.8L287.4 376.3L281.1 384.8L274.8 376.3Z" fill="#0000ff"/>
<circle cx="220.5" cy="376.3" r="6.3" fill="#ff0000"/>
<path d="M228.9 354.4L235.2 362.9L228.9 371.4L222.6 362.9Z" fill="#ff0000"/>
<path d="M200.4 367.8L206.7 376.3L200.4 384.8L194.1 376.3Z" fill="#ff0000"/>
<path d="M207.1 355.3L213.4 363.8L207.1 372.3L200.8 363.8Z" fill="#ff0000"/>
<path d="M193.7 358.6L200.0 367.1L193.7 375.6L187.4 367.1Z" fill="#0000ff"/>
<rect x="205.5" y="365.5" width="10.0" height="10.0" fill="#0000ff"/>
<path d="M237.2 362.0L243.5 370.5L237.2 379.0L230.9 370.5Z" fill="#0000ff"/>
</g>
<line x1="43.40" y1="7.50" x2="43.40" y2="665.70" stroke="#1c1c1c" stroke-width="2.6" stroke-linecap="butt"/>
<line x1="42.10" y1="664.40" x2="559.80" y2="664.40" stroke="#1c1c1c" stroke-width="2.6" stroke-linecap="butt"/>
<line x1="120.00" y1="664.40" x2="120.00" y2="657.10" stroke="#1c1c1c" stroke-width="2.2" stroke-linecap="butt"/>
<text x="120.00" y="694.70" font-size="21.5" text-anchor="middle" font-weight="normal" fill="#222222">-5</text>
<line x1="248.70" y1="664.40" x2="248.70" y2="657.10" stroke="#1c1c1c" stroke-width="2.2" stroke-linecap="butt"/>
<text x="248.70" y="694.70" font-size="21.5" text-anchor="middle" font-weight="normal" fill="#222222">0</text>
<line x1="377.40" y1="664.40" x2="377.40" y2="657.10" stroke="#1c1c1c" stroke-width="2.2" stroke-linecap="butt"/>
<text x="377.40" y="694.70" font-size="21.5" text-anchor="middle" font-weight="normal" fill="#222222">5</text>
<line x1="506.10" y1="664.40" x2="506.10" y2="657.10" stroke="#1c1c1c" stroke-width="2.2" stroke-linecap="butt"/>
<text x="506.10" y="694.70" font-size="21.5" text-anchor="middle" font-weight="normal" fill="#222222">10</text>
<line x1="43.40" y1="634.90" x2="50.70" y2="634.90" stroke="#1c1c1c" stroke-width="2.2" stroke-linecap="butt"/>
<text x="32.40" y="643.80" font-size="21.5" text-anchor="end" font-weight="normal" fill="#222222">-10</text>
<line x1="43.40" y1="485.70" x2="50.70" y2="485.70" stroke="#1c1c1c" stroke-width="2.2" stroke-linecap="butt"/>
<text x="32.40" y="494.60" font-size="21.5" text-anchor="end" font-weight="normal" fill="#222222">-5</text>
<line x1="43.40" y1="336.50" x2="50.70" y2="336.50" stroke="#1c1c1c" stroke-width="2.2" stroke-linecap="butt"/>
<text x="32.40" y="345.40" font-size="21.5" text-anchor="end" font-weight="normal" fill="#222222">0</text>
<line x1="43.40" y1="187.30" x2="50.70" y2="187.30" stroke="#1c1c1c" stroke-width="2.2" stroke-linecap="butt"/>
<text x="32.40" y="196.20" font-size="21.5" text-anchor="end" font-weight="normal" fill="#222222">5</text>
<line x1="43.40" y1="38.10" x2="50.70" y2="38.10" stroke="#1c1c1c" stroke-width="2.2" stroke-linecap="butt"/>
<text x="32.40" y="47.00" font-size="21.5" text-anchor="end" font-weight="normal" fill="#222222">10</text>
<text x="468.90" y="66.40" font-size="37.5" text-anchor="middle" font-weight="bold" fill="#000">(a)</text>
<line x1="593.30" y1="7.50" x2="593.30" y2="275.30" stroke="#1c1c1c" stroke-width="2.6" stroke-linecap="butt"/>
<line x1="592.00" y1="274.00" x2="850.80" y2="274.00" stroke="#1c1c1c" stroke-width="2.6" stroke-linecap="butt"/>
<line x1="593.20" y1="274.00" x2="593.20" y2="269.90" stroke="#1c1c1c" stroke-width="2.2" stroke-linecap="butt"/>
<text x="593.20" y="295.50" font-size="17.6" text-anchor="middle" font-weight="normal" fill="#222222">-10</text>
<line x1="657.55" y1="274.00" x2="657.55" y2="269.90" stroke="#1c1c1c" stroke-width="2.2" stroke-linecap="butt"/>
<text x="657.55" y="295.50" font-size="17.6" text-anchor="middle" font-weight="normal" fill="#222222">-5</text>
<line x1="721.90" y1="274.00" x2="721.90" y2="269.90" stroke="#1c1c1c" stroke-width="2.2" stroke-linecap="butt"/>
<text x="721.90" y="295.50" font-size="17.6" text-anchor="middle" font-weight="normal" fill="#222222">0</text>
<line x1="786.25" y1="274.00" x2="786.25" y2="269.90" stroke="#1c1c1c" stroke-width="2.2" stroke-linecap="butt"/>
<text x="786.25" y="295.50" font-size="17.6" text-anchor="middle" font-weight="normal" fill="#222222">5</text>
<line x1="850.60" y1="274.00" x2="850.60" y2="269.90" stroke="#1c1c1c" stroke-width="2.2" stroke-linecap="butt"/>
<text x="850.60" y="295.50" font-size="17.6" text-anchor="middle" font-weight="normal" fill="#222222">10</text>
<path d="M593.3 273.4L636.0 273.0L665.5 273.2L672.8 272.9L677.3 272.6L680.8 272.2L682.8 271.7L685.0 270.8L686.3 270.1L687.0 269.5L692.0 264.3L692.8 263.7L693.3 263.5L693.8 263.6L694.3 263.9L696.0 266.1L696.8 266.9L698.5 267.7L699.5 268.0L700.3 267.9L700.8 267.6L701.5 266.5L703.3 263.3L706.0 258.9L707.8 255.3L709.0 252.2L710.3 248.9L712.5 241.8L714.0 236.2L715.3 230.2L719.0 209.5L720.3 201.5L721.0 195.2L722.8 177.2L725.0 157.7L726.0 146.3L727.6 117.0L729.8 80.0L731.3 49.7L731.8 41.5L731.9 41.0L732.0 41.5L732.3 44.1L732.8 50.5L736.0 97.0L737.8 139.0L738.5 152.4L739.5 164.9L742.5 196.5L743.0 200.0L743.8 204.8L745.3 211.8L748.3 224.2L751.8 238.0L755.3 252.9L756.3 256.4L758.0 261.4L759.3 264.5L760.3 266.4L761.5 268.2L763.3 270.2L764.5 271.2L765.5 271.8L767.5 272.5L769.8 273.0L772.3 273.4L777.3 273.5L820.0 273.8" fill="none" stroke="#0000ff" stroke-width="3.4" stroke-linejoin="round" stroke-linecap="round"/>
<path d="M593.3 273.0L597.0 272.2L600.0 272.0L602.3 272.2L607.5 273.0L609.8 273.2L625.5 273.4L641.3 273.4L646.3 273.1L658.5 272.1L669.5 271.7L672.8 271.5L675.0 271.0L679.5 269.4L684.0 268.2L686.0 267.5L687.0 266.8L689.0 264.8L689.8 264.1L692.0 262.7L693.3 262.1L694.0 262.0L694.8 262.3L696.8 264.0L697.5 264.4L698.3 264.5L699.0 264.3L700.0 263.7L705.5 260.3L708.0 258.5L709.5 257.0L710.0 256.1L710.8 254.5L712.0 250.9L713.5 245.5L715.8 236.3L717.0 230.3L719.3 218.0L721.0 209.1L722.3 201.5L722.8 197.4L724.3 180.0L727.3 149.3L730.0 113.6L731.3 101.0L731.5 99.4L731.8 98.6L731.9 98.5L732.0 98.6L732.3 99.5L732.8 102.9L734.8 121.4L735.8 132.3L737.3 150.4L740.0 180.0L741.3 196.3L742.0 202.5L742.8 207.0L743.5 210.7L746.5 224.1L750.0 238.7L752.8 251.2L753.5 254.1L754.3 256.5L756.0 260.4L757.3 262.6L758.5 264.4L760.0 266.2L761.5 267.6L763.5 269.2L766.8 271.3L768.3 272.1L769.8 272.6L774.5 273.1L779.5 273.4L820.0 273.8" fill="none" stroke="#0000ff" stroke-width="3.4" stroke-linejoin="round" stroke-linecap="round"/>
<path d="M593.3 273.6L652.8 273.2L659.5 272.9L666.8 272.6L672.5 272.2L676.8 271.8L682.0 271.0L684.3 270.3L688.0 268.6L688.8 268.1L690.8 266.4L691.8 266.0L692.3 266.0L692.8 266.3L694.8 268.4L695.3 268.8L696.0 269.0L696.5 268.9L697.5 268.2L699.3 266.5L700.0 266.0L703.8 264.1L707.0 262.2L708.8 260.8L710.3 259.4L711.5 257.7L712.5 255.9L713.5 253.1L714.8 248.5L718.0 234.1L721.0 217.7L723.0 208.4L723.8 204.2L724.4 200.0L724.8 196.0L726.0 180.0L728.5 152.9L730.0 133.6L730.8 125.5L731.3 120.6L731.5 119.0L731.8 118.1L731.9 118.0L732.0 118.1L732.3 119.0L733.0 124.6L734.0 134.7L735.0 148.3L735.5 153.6L738.3 177.2L740.0 196.0L740.8 202.1L742.3 210.7L745.3 225.3L748.3 239.0L750.5 250.1L751.8 255.1L752.3 256.6L753.0 258.0L754.3 259.9L757.0 263.0L760.0 267.3L761.3 268.8L762.8 270.2L764.5 271.5L765.8 272.2L766.8 272.6L771.0 273.1L775.5 273.4L820.0 273.8" fill="none" stroke="#0000ff" stroke-width="3.4" stroke-linejoin="round" stroke-linecap="round"/>
<path d="M593.3 273.5L599.5 273.4L606.3 273.2L624.0 272.1L629.3 271.6L634.3 270.9L638.0 270.3L640.8 269.5L645.0 268.0L652.0 264.9L656.3 262.7L660.5 260.1L662.5 258.8L664.8 257.1L671.0 252.0L679.8 245.1L682.3 243.3L684.3 242.2L687.3 241.0L690.3 239.9L693.3 238.9L696.3 238.1L699.3 237.5L704.8 236.6L707.5 236.3L710.0 236.2L714.5 236.3L719.5 236.5L722.8 236.7L725.0 237.0L728.3 237.7L733.5 239.0L737.0 240.1L740.5 241.4L747.0 244.2L755.5 248.2L760.3 250.9L770.8 257.5L775.3 260.2L787.3 266.6L790.3 267.9L793.0 268.9L794.5 269.2L796.8 269.5L803.5 270.2L850.9 273.2" fill="none" stroke="#ff0000" stroke-width="3.5" stroke-linejoin="round" stroke-linecap="round"/>
<path d="M593.3 273.3L598.8 273.2L605.0 272.8L612.5 272.2L621.0 271.4L625.8 270.7L630.5 269.9L635.3 268.8L639.0 267.8L641.5 266.9L644.3 265.6L647.3 264.0L650.8 262.0L664.0 253.7L667.3 251.5L674.8 246.0L678.0 243.8L681.0 242.0L683.8 240.5L687.8 238.9L691.3 237.6L694.3 236.6L697.3 235.8L699.8 235.3L705.8 234.5L709.0 234.2L712.0 234.1L719.5 234.3L724.3 234.6L726.3 234.9L729.0 235.4L732.8 236.3L735.3 237.1L738.0 238.1L740.8 239.3L744.0 240.9L755.8 247.0L760.5 249.8L773.0 257.5L784.5 263.7L789.5 266.2L791.5 267.0L793.5 267.6L796.0 268.2L800.0 268.8L808.8 269.8L816.0 270.4L832.0 271.5L850.9 273.0" fill="none" stroke="#ff0000" stroke-width="3.5" stroke-linejoin="round" stroke-linecap="round"/>
<path d="M593.3 273.2L598.5 272.9L604.3 272.4L611.3 271.5L618.3 270.5L623.0 269.6L627.5 268.6L632.0 267.5L636.5 266.1L640.0 264.7L643.5 262.9L647.5 260.4L656.3 254.4L660.3 251.8L675.8 242.6L680.3 240.2L684.3 238.4L689.5 236.3L693.3 235.0L696.5 234.0L699.5 233.4L704.0 232.7L707.3 232.3L719.3 232.2L721.5 232.2L724.0 232.5L730.8 233.6L732.5 234.0L734.5 234.6L738.5 236.2L743.3 238.6L756.8 246.1L761.0 248.7L771.0 255.0L775.8 257.7L787.3 263.9L790.5 265.4L793.3 266.4L795.8 267.0L800.0 267.8L804.3 268.5L809.8 269.1L818.5 270.1L850.9 272.9" fill="none" stroke="#ff0000" stroke-width="3.5" stroke-linejoin="round" stroke-linecap="round"/>
<text x="719.30" y="319.80" font-size="19.8" text-anchor="middle" font-weight="normal" fill="#222222">y-axis projections</text>
<text transform="translate(584.80,143.60) rotate(-90)" font-size="19.8" text-anchor="middle" fill="#222222">probability density</text>
<text x="830.70" y="66.30" font-size="37.5" text-anchor="middle" font-weight="bold" fill="#000">(b)</text>
<line x1="593.30" y1="397.60" x2="593.30" y2="665.70" stroke="#1c1c1c" stroke-width="2.6" stroke-linecap="butt"/>
<line x1="592.00" y1="664.40" x2="850.80" y2="664.40" stroke="#1c1c1c" stroke-width="2.6" stroke-linecap="butt"/>
<line x1="635.40" y1="664.40" x2="635.40" y2="660.30" stroke="#1c1c1c" stroke-width="2.2" stroke-linecap="butt"/>
<text x="635.40" y="685.90" font-size="17.6" text-anchor="middle" font-weight="normal" fill="#222222">-5</text>
<line x1="706.40" y1="664.40" x2="706.40" y2="660.30" stroke="#1c1c1c" stroke-width="2.2" stroke-linecap="butt"/>
<text x="706.40" y="685.90" font-size="17.6" text-anchor="middle" font-weight="normal" fill="#222222">0</text>
<line x1="777.40" y1="664.40" x2="777.40" y2="660.30" stroke="#1c1c1c" stroke-width="2.2" stroke-linecap="butt"/>
<text x="777.40" y="685.90" font-size="17.6" text-anchor="middle" font-weight="normal" fill="#222222">5</text>
<line x1="848.40" y1="664.40" x2="848.40" y2="660.30" stroke="#1c1c1c" stroke-width="2.2" stroke-linecap="butt"/>
<text x="848.40" y="685.90" font-size="17.6" text-anchor="middle" font-weight="normal" fill="#222222">10</text>
<path d="M626.0 663.9L629.5 663.7L633.2 663.1L634.0 662.8L634.8 662.3L636.5 660.7L640.0 656.4L641.8 653.7L645.2 647.6L649.0 641.3L650.5 638.3L651.8 635.4L653.2 630.6L654.8 624.7L656.2 618.0L660.2 598.9L662.2 590.4L664.0 584.2L667.8 572.4L669.8 564.8L670.8 559.9L673.5 542.8L675.0 534.8L677.0 525.2L679.5 514.9L680.5 511.2L681.2 508.9L681.8 507.6L683.0 504.9L684.0 502.9L685.0 501.3L685.8 500.6L686.5 500.3L688.0 500.5L689.5 500.9L691.2 501.6L692.5 502.4L694.0 503.8L697.5 507.5L701.0 512.0L702.2 513.4L705.8 516.0L706.8 516.7L707.8 517.1L708.8 517.3L710.2 517.2L712.0 516.7L714.0 515.9L715.2 515.4L716.0 514.9L719.2 512.1L720.5 511.2L722.8 510.3L724.5 509.9L725.8 509.8L726.2 510.0L727.0 510.4L728.5 511.8L730.0 513.7L730.8 515.3L731.8 518.0L733.0 522.0L733.8 525.1L736.5 540.0L742.5 571.5L746.2 590.7L751.2 615.3L754.5 632.5L755.2 635.9L756.0 638.8L757.2 642.8L758.5 646.4L760.5 651.2L761.5 653.1L762.5 654.8L764.0 657.2L765.2 659.0L766.5 660.4L767.5 661.1L769.0 661.8L771.2 662.6L773.2 663.1L775.0 663.5L778.0 663.7L786.0 663.9" fill="none" stroke="#0000ff" stroke-width="3.3" stroke-linejoin="round" stroke-linecap="round"/>
<path d="M628.0 663.9L631.8 663.7L636.0 662.9L636.5 662.7L637.2 662.3L638.8 660.8L642.8 655.5L645.0 651.8L647.0 648.0L649.2 643.4L651.0 639.6L652.5 636.0L654.5 630.5L656.2 624.7L658.2 616.9L662.5 599.2L664.5 591.2L666.2 585.1L670.0 573.0L671.8 566.7L673.0 561.4L675.8 545.6L676.8 540.9L677.8 537.6L679.0 534.1L680.0 531.7L681.2 529.1L682.5 527.0L683.8 525.3L690.2 518.7L691.2 517.5L692.0 516.5L693.2 514.0L698.0 502.0L699.0 499.7L700.0 498.0L701.8 496.0L703.0 494.9L704.0 494.4L705.0 494.1L708.5 493.9L709.8 493.6L711.5 492.9L717.5 489.6L720.0 488.8L721.5 488.6L722.5 488.8L723.5 489.4L725.2 490.7L726.0 491.6L727.0 493.1L728.0 495.0L729.5 498.0L730.5 500.4L732.2 505.1L734.0 510.7L737.5 525.0L740.8 536.7L741.5 540.0L742.2 544.2L744.8 562.0L747.5 579.9L751.5 605.0L755.8 630.4L756.8 635.5L757.5 638.8L759.5 646.1L761.0 650.6L761.8 652.5L762.5 654.1L764.8 657.6L766.0 659.2L767.0 660.4L768.2 661.5L769.2 662.1L770.2 662.5L772.5 663.1L776.0 663.7L778.0 663.8L786.0 663.9" fill="none" stroke="#0000ff" stroke-width="3.3" stroke-linejoin="round" stroke-linecap="round"/>
<path d="M630.0 663.9L631.8 663.8L633.8 663.6L635.8 663.3L637.8 662.8L638.2 662.6L639.0 662.1L640.2 660.8L644.2 655.5L646.5 651.8L648.5 648.0L650.8 643.4L652.5 639.6L654.0 636.0L656.0 630.5L657.8 624.7L659.8 616.9L664.0 599.2L666.0 591.2L667.8 585.1L671.8 572.0L673.5 565.7L675.0 559.2L677.8 545.2L679.0 540.0L680.5 535.0L681.8 531.3L683.0 528.1L684.0 526.0L685.0 524.3L686.2 522.5L691.8 515.5L693.8 513.3L697.8 509.3L699.5 508.0L700.2 507.7L701.5 507.2L705.0 506.4L709.2 505.9L710.2 505.5L711.5 504.4L714.2 501.2L717.2 496.9L718.2 495.7L720.8 493.7L721.8 493.1L722.5 493.0L723.2 493.1L724.2 493.6L725.2 494.4L726.8 495.8L728.0 497.6L729.2 500.1L730.8 503.6L732.0 507.2L734.8 516.9L736.5 523.6L739.0 534.3L741.5 547.0L744.2 561.8L756.0 627.3L757.0 632.0L759.0 640.3L760.2 644.8L761.5 648.7L763.5 653.6L765.2 657.3L766.0 658.6L766.8 659.7L767.5 660.5L768.0 660.9L769.8 661.9L771.5 662.7L773.0 663.2L774.5 663.5L775.8 663.7L778.2 663.8L786.0 663.9" fill="none" stroke="#0000ff" stroke-width="3.3" stroke-linejoin="round" stroke-linecap="round"/>
<path d="M609.0 663.9L613.2 663.6L618.5 662.8L621.8 662.2L625.0 661.2L626.8 660.6L628.2 659.9L633.2 656.9L637.2 654.7L638.8 653.9L640.5 653.4L644.5 652.6L646.2 652.0L647.5 651.2L648.8 650.2L650.2 648.7L651.0 647.8L652.8 644.7L655.5 638.9L657.0 635.1L659.0 629.5L661.5 622.0L664.0 613.8L667.0 603.5L669.8 593.6L672.2 584.0L674.5 574.9L680.8 548.1L684.2 532.1L688.0 513.4L695.8 472.0L697.8 462.6L699.8 454.2L701.5 448.0L703.0 443.5L704.0 440.9L704.8 439.4L706.0 437.6L706.8 436.8L707.3 436.6L707.8 436.7L708.0 436.9L708.8 437.8L709.8 439.5L710.2 440.8L711.2 444.5L712.5 450.0L714.0 457.7L716.5 473.2L718.5 487.3L720.0 499.2L722.5 521.8L723.8 531.3L725.0 540.0L726.5 549.4L728.5 560.9L731.8 578.8L733.5 587.3L735.2 594.2L737.2 600.9L741.2 612.7L743.8 619.7L746.2 626.2L750.0 635.1L752.0 639.2L754.0 642.6L756.5 646.3L757.8 647.9L758.8 649.0L759.8 649.8L760.8 650.5L764.0 652.3L765.8 653.1L767.5 653.5L776.8 653.8L777.8 653.9L778.8 654.1L780.2 654.7L783.5 656.2L787.8 658.8L789.0 659.5L793.2 661.5L794.8 662.0L796.0 662.3L798.2 662.6L803.2 663.1L811.2 663.5L836.8 663.4L850.5 663.7" fill="none" stroke="#ff0000" stroke-width="3.5" stroke-linejoin="round" stroke-linecap="round"/>
<path d="M608.0 663.9L612.0 663.6L617.0 662.9L620.5 662.2L624.0 661.2L626.5 660.1L631.2 657.4L636.8 654.5L638.8 653.8L643.0 652.6L645.0 651.9L646.2 651.3L647.2 650.7L648.0 650.1L648.8 649.3L649.8 647.9L651.0 645.8L652.8 642.5L654.5 638.5L656.2 633.9L660.2 622.6L662.5 615.8L664.8 608.5L667.5 598.7L671.8 582.8L674.2 573.1L676.5 563.7L681.2 541.1L684.8 526.7L686.2 519.4L687.5 511.9L690.0 495.2L694.2 468.2L695.8 459.4L697.5 450.2L699.8 439.4L703.0 424.8L705.0 418.1L705.5 417.0L705.8 416.6L706.0 416.5L706.2 416.6L706.8 416.9L707.5 418.0L708.8 420.6L709.2 422.1L710.2 426.1L711.5 432.0L713.0 440.2L716.5 463.1L718.8 479.9L719.8 489.0L722.2 515.4L723.5 525.3L724.5 531.5L729.2 558.6L732.2 574.4L734.0 583.0L735.5 589.4L737.5 596.4L739.5 602.5L743.5 613.8L746.8 622.6L750.8 632.5L752.8 637.1L754.5 640.5L757.2 645.0L758.5 646.7L759.5 648.0L760.5 649.0L761.2 649.6L763.8 651.1L766.2 652.2L768.5 652.9L770.8 653.3L776.5 653.8L777.8 654.1L779.0 654.4L780.8 655.2L784.0 656.7L789.2 659.7L793.5 661.5L796.0 662.4L797.5 662.6L802.0 663.0L810.8 663.4L817.0 663.4L836.5 663.2L842.8 663.3L850.5 663.6" fill="none" stroke="#ff0000" stroke-width="3.5" stroke-linejoin="round" stroke-linecap="round"/>
<path d="M607.0 663.8L611.0 663.5L615.8 662.8L619.2 662.1L622.5 661.2L624.5 660.4L626.8 659.3L630.5 657.2L634.0 655.0L635.5 654.2L637.0 653.6L643.2 651.8L644.5 651.3L645.5 650.6L646.5 649.6L647.5 648.3L649.5 645.0L650.5 643.1L652.0 639.7L654.8 632.6L659.0 622.3L661.8 614.8L664.0 607.2L673.0 571.9L676.8 556.1L683.0 528.1L684.8 519.4L687.0 505.9L694.2 459.3L696.0 449.3L698.0 438.9L699.8 431.0L701.2 425.1L702.2 421.5L703.2 418.6L704.5 415.6L705.0 414.7L705.2 414.4L705.6 414.2L706.2 414.5L707.2 415.7L708.2 417.5L709.0 419.7L710.0 423.6L711.5 430.3L713.2 439.4L715.8 455.0L718.0 471.8L719.5 484.4L722.5 514.0L723.5 521.8L724.5 527.7L727.0 540.0L730.8 559.9L734.0 576.2L735.5 583.3L736.8 588.5L738.0 592.9L739.5 597.6L741.2 602.5L747.5 619.6L752.2 631.7L754.5 637.1L755.5 639.1L756.5 640.9L759.0 645.0L760.8 647.4L762.2 648.9L764.0 650.1L766.2 651.2L769.2 652.3L771.8 653.0L777.2 654.3L780.5 655.4L782.8 656.4L784.5 657.3L788.0 659.8L789.2 660.6L791.2 661.3L794.0 662.1L796.0 662.5L797.8 662.7L808.0 663.1L816.8 663.2L836.2 662.9L842.5 663.1L850.5 663.5" fill="none" stroke="#ff0000" stroke-width="3.5" stroke-linejoin="round" stroke-linecap="round"/>
<text x="718.50" y="710.30" font-size="19.8" text-anchor="middle" font-weight="normal" fill="#222222">x-axis projections</text>
<text transform="translate(584.80,534.40) rotate(-90)" font-size="19.8" text-anchor="middle" fill="#222222">probability density</text>
<text x="828.80" y="648.50" font-size="37.5" text-anchor="middle" font-weight="bold" fill="#000">(c)</text>
<line x1="902.20" y1="7.50" x2="902.20" y2="275.30" stroke="#1c1c1c" stroke-width="2.6" stroke-linecap="butt"/>
<line x1="900.90" y1="274.00" x2="1159.50" y2="274.00" stroke="#1c1c1c" stroke-width="2.6" stroke-linecap="butt"/>
<line x1="902.40" y1="274.00" x2="902.40" y2="269.90" stroke="#1c1c1c" stroke-width="2.2" stroke-linecap="butt"/>
<text x="902.40" y="295.50" font-size="17.6" text-anchor="middle" font-weight="normal" fill="#222222">-1</text>
<line x1="966.50" y1="274.00" x2="966.50" y2="269.90" stroke="#1c1c1c" stroke-width="2.2" stroke-linecap="butt"/>
<text x="966.50" y="295.50" font-size="17.6" text-anchor="middle" font-weight="normal" fill="#222222">-0.5</text>
<line x1="1030.60" y1="274.00" x2="1030.60" y2="269.90" stroke="#1c1c1c" stroke-width="2.2" stroke-linecap="butt"/>
<text x="1030.60" y="295.50" font-size="17.6" text-anchor="middle" font-weight="normal" fill="#222222">0</text>
<line x1="1094.70" y1="274.00" x2="1094.70" y2="269.90" stroke="#1c1c1c" stroke-width="2.2" stroke-linecap="butt"/>
<text x="1094.70" y="295.50" font-size="17.6" text-anchor="middle" font-weight="normal" fill="#222222">0.5</text>
<line x1="1158.80" y1="274.00" x2="1158.80" y2="269.90" stroke="#1c1c1c" stroke-width="2.2" stroke-linecap="butt"/>
<text x="1158.80" y="295.50" font-size="17.6" text-anchor="middle" font-weight="normal" fill="#222222">1</text>
<line x1="902.20" y1="274.00" x2="906.30" y2="274.00" stroke="#1c1c1c" stroke-width="2.2" stroke-linecap="butt"/>
<text x="897.80" y="281.10" font-size="17.6" text-anchor="end" font-weight="normal" fill="#222222">1</text>
<line x1="902.20" y1="167.40" x2="906.30" y2="167.40" stroke="#1c1c1c" stroke-width="2.2" stroke-linecap="butt"/>
<text x="897.80" y="174.50" font-size="17.6" text-anchor="end" font-weight="normal" fill="#222222">2</text>
<line x1="902.20" y1="60.80" x2="906.30" y2="60.80" stroke="#1c1c1c" stroke-width="2.2" stroke-linecap="butt"/>
<text x="897.80" y="67.90" font-size="17.6" text-anchor="end" font-weight="normal" fill="#222222">3</text>
<text x="1028.60" y="319.80" font-size="19.8" text-anchor="middle" font-weight="normal" fill="#222222">d-mode: mean</text>
<text transform="translate(882.00,143.00) rotate(-90)" font-size="19.8" text-anchor="middle" fill="#222222">d-mode: STD</text>
<text x="1140.20" y="66.30" font-size="37.5" text-anchor="middle" font-weight="bold" fill="#000">(d)</text>
<path d="M957.4 43.7L963.7 52.2L957.4 60.7L951.1 52.2Z" fill="#ff0000"/>
<rect x="974.0" y="37.7" width="10.0" height="10.0" fill="#ff0000"/>
<circle cx="997.0" cy="84.1" r="6.3" fill="#ff0000"/>
<rect x="1115.5" y="210.5" width="10.0" height="10.0" fill="#0000ff"/>
<path d="M1135.9 212.2L1142.2 220.7L1135.9 229.2L1129.6 220.7Z" fill="#0000ff"/>
<circle cx="1123.6" cy="247.1" r="6.3" fill="#0000ff"/>
<line x1="902.20" y1="398.00" x2="902.20" y2="665.70" stroke="#1c1c1c" stroke-width="2.6" stroke-linecap="butt"/>
<line x1="900.90" y1="664.40" x2="1160.40" y2="664.40" stroke="#1c1c1c" stroke-width="2.6" stroke-linecap="butt"/>
<line x1="927.10" y1="664.40" x2="927.10" y2="660.30" stroke="#1c1c1c" stroke-width="2.2" stroke-linecap="butt"/>
<text x="927.10" y="685.90" font-size="17.6" text-anchor="middle" font-weight="normal" fill="#222222">-0.2</text>
<line x1="1030.30" y1="664.40" x2="1030.30" y2="660.30" stroke="#1c1c1c" stroke-width="2.2" stroke-linecap="butt"/>
<text x="1030.30" y="685.90" font-size="17.6" text-anchor="middle" font-weight="normal" fill="#222222">0</text>
<line x1="1133.50" y1="664.40" x2="1133.50" y2="660.30" stroke="#1c1c1c" stroke-width="2.2" stroke-linecap="butt"/>
<text x="1133.50" y="685.90" font-size="17.6" text-anchor="middle" font-weight="normal" fill="#222222">0.2</text>
<line x1="902.20" y1="664.40" x2="906.30" y2="664.40" stroke="#1c1c1c" stroke-width="2.2" stroke-linecap="butt"/>
<text x="897.80" y="671.50" font-size="17.6" text-anchor="end" font-weight="normal" fill="#222222">1.5</text>
<line x1="902.20" y1="611.14" x2="906.30" y2="611.14" stroke="#1c1c1c" stroke-width="2.2" stroke-linecap="butt"/>
<text x="897.80" y="618.24" font-size="17.6" text-anchor="end" font-weight="normal" fill="#222222">1.6</text>
<line x1="902.20" y1="557.88" x2="906.30" y2="557.88" stroke="#1c1c1c" stroke-width="2.2" stroke-linecap="butt"/>
<text x="897.80" y="564.98" font-size="17.6" text-anchor="end" font-weight="normal" fill="#222222">1.7</text>
<line x1="902.20" y1="504.62" x2="906.30" y2="504.62" stroke="#1c1c1c" stroke-width="2.2" stroke-linecap="butt"/>
<text x="897.80" y="511.72" font-size="17.6" text-anchor="end" font-weight="normal" fill="#222222">1.8</text>
<line x1="902.20" y1="451.36" x2="906.30" y2="451.36" stroke="#1c1c1c" stroke-width="2.2" stroke-linecap="butt"/>
<text x="897.80" y="458.46" font-size="17.6" text-anchor="end" font-weight="normal" fill="#222222">1.9</text>
<line x1="902.20" y1="398.10" x2="906.30" y2="398.10" stroke="#1c1c1c" stroke-width="2.2" stroke-linecap="butt"/>
<text x="897.80" y="405.20" font-size="17.6" text-anchor="end" font-weight="normal" fill="#222222">2</text>
<text x="1029.00" y="710.20" font-size="19.8" text-anchor="middle" font-weight="normal" fill="#222222">i-mode: mean</text>
<text transform="translate(867.00,532.20) rotate(-90)" font-size="19.8" text-anchor="middle" fill="#222222">i-mode: STD</text>
<text x="1136.80" y="648.50" font-size="37.5" text-anchor="middle" font-weight="bold" fill="#000">(e)</text>
<rect x="973.5" y="523.1" width="10.0" height="10.0" fill="#ff0000"/>
<path d="M995.0 530.4L1001.3 538.9L995.0 547.4L988.7 538.9Z" fill="#ff0000"/>
<path d="M1038.5 537.4L1044.8 545.9L1038.5 554.4L1032.2 545.9Z" fill="#0000ff"/>
<rect x="1058.6" y="532.9" width="10.0" height="10.0" fill="#0000ff"/>
<circle cx="981.7" cy="562.4" r="6.3" fill="#0000ff"/>
<circle cx="1024.7" cy="565.1" r="6.3" fill="#ff0000"/>
<rect x="1264.9" y="8" width="89.2" height="266" fill="#dfdfdf"/>
<line x1="1309.60" y1="8.00" x2="1309.60" y2="274.00" stroke="#000" stroke-width="2.2" stroke-linecap="butt"/>
<line x1="1211.00" y1="8.30" x2="1211.00" y2="275.30" stroke="#1c1c1c" stroke-width="2.6" stroke-linecap="butt"/>
<line x1="1209.70" y1="274.00" x2="1459.00" y2="274.00" stroke="#1c1c1c" stroke-width="2.6" stroke-linecap="butt"/>
<line x1="1211.00" y1="274.00" x2="1211.00" y2="269.90" stroke="#1c1c1c" stroke-width="2.2" stroke-linecap="butt"/>
<text x="1211.00" y="295.50" font-size="17.6" text-anchor="middle" font-weight="normal" fill="#222222">0</text>
<line x1="1314.15" y1="274.00" x2="1314.15" y2="269.90" stroke="#1c1c1c" stroke-width="2.2" stroke-linecap="butt"/>
<text x="1314.15" y="295.50" font-size="17.6" text-anchor="middle" font-weight="normal" fill="#222222">0.5</text>
<line x1="1417.30" y1="274.00" x2="1417.30" y2="269.90" stroke="#1c1c1c" stroke-width="2.2" stroke-linecap="butt"/>
<text x="1417.30" y="295.50" font-size="17.6" text-anchor="middle" font-weight="normal" fill="#222222">1</text>
<line x1="1211.00" y1="274.00" x2="1215.10" y2="274.00" stroke="#1c1c1c" stroke-width="2.2" stroke-linecap="butt"/>
<text x="1205.40" y="281.10" font-size="17.6" text-anchor="end" font-weight="normal" fill="#222222">0</text>
<line x1="1211.00" y1="220.86" x2="1215.10" y2="220.86" stroke="#1c1c1c" stroke-width="2.2" stroke-linecap="butt"/>
<text x="1205.40" y="227.96" font-size="17.6" text-anchor="end" font-weight="normal" fill="#222222">0.2</text>
<line x1="1211.00" y1="167.72" x2="1215.10" y2="167.72" stroke="#1c1c1c" stroke-width="2.2" stroke-linecap="butt"/>
<text x="1205.40" y="174.82" font-size="17.6" text-anchor="end" font-weight="normal" fill="#222222">0.4</text>
<line x1="1211.00" y1="114.58" x2="1215.10" y2="114.58" stroke="#1c1c1c" stroke-width="2.2" stroke-linecap="butt"/>
<text x="1205.40" y="121.68" font-size="17.6" text-anchor="end" font-weight="normal" fill="#222222">0.6</text>
<line x1="1211.00" y1="61.44" x2="1215.10" y2="61.44" stroke="#1c1c1c" stroke-width="2.2" stroke-linecap="butt"/>
<text x="1205.40" y="68.54" font-size="17.6" text-anchor="end" font-weight="normal" fill="#222222">0.8</text>
<line x1="1211.00" y1="8.30" x2="1215.10" y2="8.30" stroke="#1c1c1c" stroke-width="2.2" stroke-linecap="butt"/>
<text x="1205.40" y="15.40" font-size="17.6" text-anchor="end" font-weight="normal" fill="#222222">1</text>
<path d="M1210.2 274.0L1277.2 273.9L1290.2 273.7L1293.2 273.6L1295.7 273.4L1299.7 272.8L1303.7 272.0L1306.7 271.1L1309.7 269.8L1313.7 267.8L1316.2 266.3L1319.2 264.1L1322.2 261.3L1323.7 259.7L1324.7 258.5L1326.7 255.4L1330.2 248.9L1332.7 243.6L1335.2 237.5L1337.2 232.0L1339.2 225.8L1341.2 218.8L1342.7 212.9L1343.7 208.5L1345.2 201.0L1346.7 192.8L1348.2 183.4L1355.2 136.0L1359.2 109.9L1361.7 95.5L1364.2 83.3L1366.2 75.3L1368.7 66.4L1370.7 59.6L1372.7 53.5L1375.2 46.9L1379.2 37.3L1381.2 33.1L1383.7 28.5L1385.9 25.1L1388.7 21.7L1391.2 19.1L1394.7 16.2L1397.7 14.2L1400.7 12.8L1403.7 11.6L1407.2 10.7L1410.7 10.0L1415.7 9.5L1420.7 9.1L1427.7 8.7L1446.2 8.3L1470.0 8.3" fill="none" stroke="#ff0000" stroke-width="3.4" stroke-linejoin="round" stroke-linecap="butt"/>
<path d="M1211.5 8.6L1220.5 8.7L1223.5 8.8L1225.0 8.9L1227.5 9.5L1230.0 10.3L1232.0 11.0L1233.5 11.9L1236.0 13.7L1237.5 15.0L1239.0 16.6L1240.0 17.9L1242.0 21.3L1243.5 24.2L1245.5 28.7L1247.0 32.6L1249.5 40.2L1250.8 44.9L1252.0 49.8L1255.0 64.0L1258.0 80.5L1260.5 95.1L1262.0 105.3L1262.5 109.4L1263.0 114.6L1264.0 127.0L1265.0 135.9L1266.5 146.6L1268.5 158.1L1270.0 165.4L1272.0 174.4L1276.6 192.8L1280.0 207.0L1282.0 214.4L1285.0 223.5L1288.0 231.5L1293.0 244.0L1295.5 249.5L1299.0 255.8L1301.5 259.8L1303.0 261.9L1304.0 263.0L1304.9 263.9L1306.5 265.2L1309.5 267.3L1312.5 268.8L1316.5 270.4L1320.0 271.5L1323.0 272.2L1329.0 273.1L1334.0 273.7L1346.5 274.1L1364.5 274.3L1458.6 274.3" fill="none" stroke="#0000ff" stroke-width="3.4" stroke-linejoin="round" stroke-linecap="butt"/>
<text x="1340.40" y="319.60" font-size="19.8" text-anchor="middle" font-weight="normal" fill="#222222">ln(score)</text>
<text transform="translate(1175.70,143.00) rotate(-90)" font-size="19.8" text-anchor="middle" fill="#222222">voter fraction</text>
<text x="1435.00" y="66.30" font-size="37.5" text-anchor="middle" font-weight="bold" fill="#000">(f)</text>
<line x1="1309.60" y1="398.50" x2="1309.60" y2="664.40" stroke="#000" stroke-width="2.2" stroke-linecap="butt"/>
<line x1="1211.00" y1="398.00" x2="1211.00" y2="665.70" stroke="#1c1c1c" stroke-width="2.6" stroke-linecap="butt"/>
<line x1="1209.70" y1="664.40" x2="1470.00" y2="664.40" stroke="#1c1c1c" stroke-width="2.6" stroke-linecap="butt"/>
<line x1="1211.00" y1="664.40" x2="1211.00" y2="660.30" stroke="#1c1c1c" stroke-width="2.2" stroke-linecap="butt"/>
<text x="1211.00" y="685.90" font-size="17.6" text-anchor="middle" font-weight="normal" fill="#222222">0</text>
<line x1="1314.15" y1="664.40" x2="1314.15" y2="660.30" stroke="#1c1c1c" stroke-width="2.2" stroke-linecap="butt"/>
<text x="1314.15" y="685.90" font-size="17.6" text-anchor="middle" font-weight="normal" fill="#222222">0.5</text>
<line x1="1417.30" y1="664.40" x2="1417.30" y2="660.30" stroke="#1c1c1c" stroke-width="2.2" stroke-linecap="butt"/>
<text x="1417.30" y="685.90" font-size="17.6" text-anchor="middle" font-weight="normal" fill="#222222">1</text>
<line x1="1211.00" y1="664.40" x2="1215.10" y2="664.40" stroke="#1c1c1c" stroke-width="2.2" stroke-linecap="butt"/>
<text x="1205.40" y="671.50" font-size="17.6" text-anchor="end" font-weight="normal" fill="#222222">0</text>
<line x1="1211.00" y1="581.40" x2="1215.10" y2="581.40" stroke="#1c1c1c" stroke-width="2.2" stroke-linecap="butt"/>
<text x="1205.40" y="588.50" font-size="17.6" text-anchor="end" font-weight="normal" fill="#222222">0.5</text>
<line x1="1211.00" y1="498.40" x2="1215.10" y2="498.40" stroke="#1c1c1c" stroke-width="2.2" stroke-linecap="butt"/>
<text x="1205.40" y="505.50" font-size="17.6" text-anchor="end" font-weight="normal" fill="#222222">1</text>
<line x1="1211.00" y1="415.40" x2="1215.10" y2="415.40" stroke="#1c1c1c" stroke-width="2.2" stroke-linecap="butt"/>
<text x="1205.40" y="422.50" font-size="17.6" text-anchor="end" font-weight="normal" fill="#222222">1.5</text>
<path d="M1211.2 398.0L1214.7 430.0L1220.2 473.9L1223.2 499.1L1225.7 521.2L1227.7 536.1L1229.7 549.2L1230.7 554.8L1231.7 559.6L1233.2 566.1L1234.7 571.9L1236.7 578.8L1240.7 591.7L1243.2 599.4L1245.2 605.1L1247.7 611.5L1250.2 617.0L1253.2 622.9L1256.2 628.1L1258.7 631.7L1261.7 635.5L1264.7 638.8L1268.7 642.7L1272.2 645.8L1275.2 648.1L1278.1 650.1L1281.2 651.9L1284.7 653.6L1289.2 655.6L1297.6 658.9L1309.0 663.6" fill="none" stroke="#0000ff" stroke-width="3.4" stroke-linejoin="round" stroke-linecap="butt"/>
<path d="M1416.5 412.6L1388.0 469.7L1359.9 526.9L1337.9 570.5L1334.0 578.9L1324.7 599.9L1322.4 605.8L1319.8 613.4L1315.1 628.5L1313.3 635.2L1311.5 643.6L1310.6 648.7L1309.8 657.1L1309.5 663.8" fill="none" stroke="#ff0000" stroke-width="3.4" stroke-linejoin="round" stroke-linecap="butt"/>
<text x="1340.40" y="710.20" font-size="19.8" text-anchor="middle" font-weight="normal" fill="#222222">ln(score)</text>
<text transform="translate(1175.70,532.00) rotate(-90)" font-size="19.8" text-anchor="middle" fill="#222222">efficacy</text>
<text x="1440.00" y="648.50" font-size="37.5" text-anchor="middle" font-weight="bold" fill="#000">(g)</text>
<text x="1727.80" y="65.80" font-size="37.5" text-anchor="middle" font-weight="bold" fill="#000" textLength="47.5" lengthAdjust="spacingAndGlyphs">(h)</text>
<rect x="1623.8" y="115.7" width="210.2" height="57.6" fill="#fff" stroke="#000" stroke-width="2.9"/>
<line x1="1624.00" y1="114.30" x2="1624.00" y2="174.70" stroke="#000" stroke-width="3.4" stroke-linecap="butt"/>
<line x1="1833.80" y1="114.30" x2="1833.80" y2="174.70" stroke="#000" stroke-width="3.4" stroke-linecap="butt"/>
<text x="1728.3" y="154.9" font-size="30" text-anchor="middle" fill="#000" textLength="171.8" lengthAdjust="spacingAndGlyphs">basis vector</text>
<line x1="1728.80" y1="174.00" x2="1728.80" y2="226.00" stroke="#000" stroke-width="3.5" stroke-linecap="butt"/>
<path d="M1716.5 223.2L1740.8 223.2L1728.7 236.2Z" fill="#000"/>
<line x1="1728.80" y1="236.00" x2="1728.80" y2="247.00" stroke="#000" stroke-width="3.5" stroke-linecap="butt"/>
<line x1="1540.00" y1="237.00" x2="1915.00" y2="237.00" stroke="#000" stroke-width="2.8" stroke-linecap="butt"/>
<path d="M1531.9 237L1546.4 226.2L1546.4 248.2Z" fill="#000"/>
<path d="M1923.6 237L1909.2 226.2L1909.2 248.2Z" fill="#000"/>
<line x1="1533.80" y1="237.00" x2="1533.80" y2="449.60" stroke="#000" stroke-width="3.5" stroke-linecap="butt"/>
<line x1="1922.50" y1="237.00" x2="1922.50" y2="449.60" stroke="#000" stroke-width="3.5" stroke-linecap="butt"/>
<path d="M1728.4 246.2L1756.8 292.0L1699.8 292.0Z" fill="#ffff00" stroke="#000" stroke-width="3.2" stroke-linejoin="miter"/>
<text x="1728.8" y="285.6" font-size="33" text-anchor="middle" fill="#000">u</text>
<line x1="1525.00" y1="448.20" x2="1670.00" y2="448.20" stroke="#000" stroke-width="2.8" stroke-linecap="butt"/>
<path d="M1680.2 448.2L1667.5 441.3L1667.5 455.1Z" fill="#000"/>
<line x1="1789.00" y1="448.20" x2="1929.00" y2="448.20" stroke="#000" stroke-width="2.8" stroke-linecap="butt"/>
<path d="M1778.4 448.2L1791.2 441.3L1791.2 455.1Z" fill="#000"/>
<line x1="1681.00" y1="406.00" x2="1681.00" y2="556.00" stroke="#000" stroke-width="3.5" stroke-linecap="butt"/>
<line x1="1778.00" y1="406.00" x2="1778.00" y2="556.00" stroke="#000" stroke-width="3.5" stroke-linecap="butt"/>
<path d="M1680.9 566.6L1673.7 553L1688.1 553Z" fill="#000"/>
<path d="M1778.0 566.6L1770.8 553L1785.2 553Z" fill="#000"/>
<path d="M1652.8 359.2L1709.2 359.2L1681.0 405.6Z" fill="#ffff00" stroke="#000" stroke-width="3.2" stroke-linejoin="miter"/>
<text x="1681.0" y="383.2" font-size="33" text-anchor="middle" fill="#000">u</text>
<path d="M1749.8 359.2L1806.6 359.2L1778.2 405.6Z" fill="#ffff00" stroke="#000" stroke-width="3.2" stroke-linejoin="miter"/>
<text x="1778.2" y="383.2" font-size="33" text-anchor="middle" fill="#000">u</text>
<path d="M1476.3 421.0L1523.0 448.2L1476.3 475.4Z" fill="#ffff00" stroke="#000" stroke-width="3.2" stroke-linejoin="miter"/>
<text x="1492.0" y="458.6" font-size="33" text-anchor="middle" fill="#000">u</text>
<path d="M1978.9 421.0L1930.6 448.2L1978.9 475.4Z" fill="#ffff00" stroke="#000" stroke-width="3.2" stroke-linejoin="miter"/>
<text x="1963.0" y="458.6" font-size="33" text-anchor="middle" fill="#000">u</text>
<text font-family="'Liberation Serif','DejaVu Serif',serif" text-anchor="middle" fill="#000"><tspan x="1577.0" y="220.7" font-size="30.4" font-style="italic">S</tspan><tspan x="1591.8" y="226.7" font-size="24" font-style="italic">k</tspan><tspan font-size="8"> </tspan><tspan x="1621.0" y="221.7" font-size="31" textLength="21.2" lengthAdjust="spacingAndGlyphs">&lt;</tspan><tspan font-size="8"> </tspan><tspan x="1648.4" y="220.7" font-size="30.4" font-style="italic">S</tspan><tspan x="1661.0" y="226.7" font-size="24" font-style="italic">i</tspan></text>
<text font-family="'Liberation Serif','DejaVu Serif',serif" text-anchor="middle" fill="#000"><tspan x="1797.0" y="220.7" font-size="30.4" font-style="italic">S</tspan><tspan x="1812.4" y="226.7" font-size="24" font-style="italic">k</tspan><tspan font-size="8"> </tspan><tspan x="1842.4" y="221.7" font-size="31" textLength="20.7" lengthAdjust="spacingAndGlyphs">&gt;</tspan><tspan font-size="8"> </tspan><tspan x="1870.6" y="220.7" font-size="30.4" font-style="italic">S</tspan><tspan x="1885.9" y="226.7" font-size="24" font-style="italic">d</tspan></text>
<text font-family="'Liberation Serif','DejaVu Serif',serif" text-anchor="middle" fill="#000"><tspan x="1567.1" y="430.4" font-size="30.4" font-style="italic">V</tspan><tspan x="1577.2" y="436.4" font-size="24" font-style="italic">i</tspan><tspan font-size="8"> </tspan><tspan x="1603.5" y="431.4" font-size="31" textLength="21.3" lengthAdjust="spacingAndGlyphs">&gt;</tspan><tspan font-size="8"> </tspan><tspan x="1634.7" y="430.4" font-size="30.4" font-style="italic">V</tspan><tspan x="1645.8" y="436.4" font-size="24" font-style="italic">t</tspan></text>
<text font-family="'Liberation Serif','DejaVu Serif',serif" text-anchor="middle" fill="#000"><tspan x="1812.6" y="430.4" font-size="30.4" font-style="italic">V</tspan><tspan x="1826.9" y="436.4" font-size="24" font-style="italic">d</tspan><tspan font-size="8"> </tspan><tspan x="1856.8" y="431.4" font-size="31" textLength="21.3" lengthAdjust="spacingAndGlyphs">&gt;</tspan><tspan font-size="8"> </tspan><tspan x="1887.4" y="430.4" font-size="30.4" font-style="italic">V</tspan><tspan x="1899.1" y="436.4" font-size="24" font-style="italic">t</tspan></text>
<text font-family="'Liberation Serif','DejaVu Serif',serif" text-anchor="middle" fill="#000"><tspan x="1567.2" y="512.8" font-size="30.4" font-style="italic">Q</tspan><tspan x="1581.9" y="518.8" font-size="24" font-style="italic">i</tspan><tspan font-size="8"> </tspan><tspan x="1608.8" y="513.8" font-size="31" textLength="20.3" lengthAdjust="spacingAndGlyphs">&gt;</tspan><tspan font-size="8"> </tspan><tspan x="1639.2" y="512.8" font-size="30.4" font-style="italic">Q</tspan><tspan x="1660.3" y="518.8" font-size="24" font-style="italic" textLength="21.7" lengthAdjust="spacingAndGlyphs">m</tspan></text>
<text font-family="'Liberation Serif','DejaVu Serif',serif" text-anchor="middle" fill="#000"><tspan x="1799.0" y="512.8" font-size="30.4" font-style="italic">Q</tspan><tspan x="1817.0" y="518.8" font-size="24" font-style="italic">d</tspan><tspan font-size="8"> </tspan><tspan x="1847.5" y="513.8" font-size="31" textLength="20.8" lengthAdjust="spacingAndGlyphs">&gt;</tspan><tspan font-size="8"> </tspan><tspan x="1877.6" y="512.8" font-size="30.4" font-style="italic">Q</tspan><tspan x="1899.0" y="518.8" font-size="24" font-style="italic" textLength="22.2" lengthAdjust="spacingAndGlyphs">m</tspan></text>
<text x="1647.7" y="602.8" font-size="34.5" font-weight="bold" text-anchor="middle" fill="#0433ff" textLength="119" lengthAdjust="spacingAndGlyphs">i-mode</text>
<text x="1827.6" y="602.8" font-size="34.5" font-weight="bold" text-anchor="middle" fill="#ff0000" textLength="131.5" lengthAdjust="spacingAndGlyphs">d-mode</text>
<text x="1732.3" y="682.4" font-size="35" font-weight="bold" text-anchor="middle" fill="#000" textLength="227.5" lengthAdjust="spacingAndGlyphs">decision triad</text>
</svg>
</body></html>
